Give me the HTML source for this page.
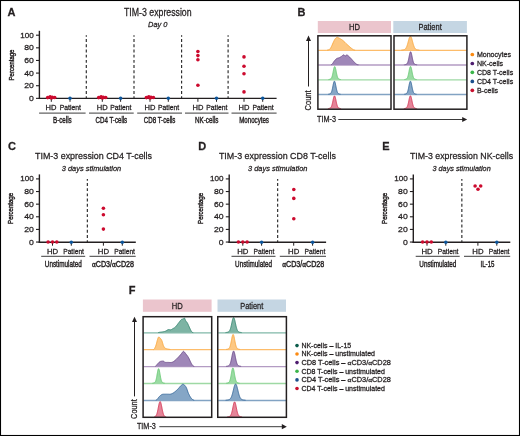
<!DOCTYPE html>
<html><head><meta charset="utf-8"><style>
html,body{margin:0;padding:0;background:#fff;}
svg{display:block;font-family:"Liberation Sans", sans-serif;will-change:transform;}
text{stroke:#231f20;stroke-width:0.26px;}
text.c{stroke-width:0.42px;}
</style></head><body>
<svg width="520" height="436" viewBox="0 0 520 436" fill="#231f20">
<rect x="0" y="0" width="520" height="436" fill="#fff"/>
<text x="7.60" y="15.90" font-size="11" font-weight="bold">A</text>
<text x="157.80" y="15.75" font-size="10.0" text-anchor="middle" textLength="67.60" lengthAdjust="spacingAndGlyphs">TIM-3 expression</text>
<text x="157.80" y="27.40" font-size="7.9" text-anchor="middle" font-style="italic" textLength="19.40" lengthAdjust="spacingAndGlyphs">Day 0</text>
<line x1="39.40" y1="30.80" x2="39.40" y2="99.05" stroke="#231f20" stroke-width="1.4"/>
<line x1="36.00" y1="35.20" x2="39.40" y2="35.20" stroke="#231f20" stroke-width="1.1"/>
<text x="33.80" y="37.70" font-size="8.0" text-anchor="end" textLength="13.50" lengthAdjust="spacingAndGlyphs">100</text>
<line x1="36.00" y1="47.83" x2="39.40" y2="47.83" stroke="#231f20" stroke-width="1.1"/>
<text x="33.80" y="50.33" font-size="8.0" text-anchor="end" textLength="9.60" lengthAdjust="spacingAndGlyphs">80</text>
<line x1="36.00" y1="60.46" x2="39.40" y2="60.46" stroke="#231f20" stroke-width="1.1"/>
<text x="33.80" y="62.96" font-size="8.0" text-anchor="end" textLength="9.60" lengthAdjust="spacingAndGlyphs">60</text>
<line x1="36.00" y1="73.09" x2="39.40" y2="73.09" stroke="#231f20" stroke-width="1.1"/>
<text x="33.80" y="75.59" font-size="8.0" text-anchor="end" textLength="9.60" lengthAdjust="spacingAndGlyphs">40</text>
<line x1="36.00" y1="85.72" x2="39.40" y2="85.72" stroke="#231f20" stroke-width="1.1"/>
<text x="33.80" y="88.22" font-size="8.0" text-anchor="end" textLength="9.60" lengthAdjust="spacingAndGlyphs">20</text>
<line x1="36.00" y1="98.35" x2="39.40" y2="98.35" stroke="#231f20" stroke-width="1.1"/>
<text x="33.80" y="100.85" font-size="8.0" text-anchor="end" textLength="4.80" lengthAdjust="spacingAndGlyphs">0</text>
<line x1="38.70" y1="98.35" x2="276.60" y2="98.35" stroke="#231f20" stroke-width="1.4"/>
<text x="12.20" y="65.00" font-size="7.0" class="c" text-anchor="middle" textLength="31.00" lengthAdjust="spacingAndGlyphs" transform="rotate(-90 12.20 65.00)" dy="2.3">Percentage</text>
<line x1="86.30" y1="35.30" x2="86.30" y2="98.00" stroke="#2a2a2a" stroke-width="1.15" stroke-dasharray="2.9 2.3" stroke-dashoffset="1.4"/>
<line x1="134.00" y1="35.30" x2="134.00" y2="98.00" stroke="#2a2a2a" stroke-width="1.15" stroke-dasharray="2.9 2.3" stroke-dashoffset="1.4"/>
<line x1="181.60" y1="35.30" x2="181.60" y2="98.00" stroke="#2a2a2a" stroke-width="1.15" stroke-dasharray="2.9 2.3" stroke-dashoffset="1.4"/>
<line x1="228.10" y1="35.30" x2="228.10" y2="98.00" stroke="#2a2a2a" stroke-width="1.15" stroke-dasharray="2.9 2.3" stroke-dashoffset="1.4"/>
<line x1="51.30" y1="98.30" x2="51.30" y2="101.80" stroke="#231f20" stroke-width="1.0"/>
<line x1="102.30" y1="98.30" x2="102.30" y2="101.80" stroke="#231f20" stroke-width="1.0"/>
<line x1="150.00" y1="98.30" x2="150.00" y2="101.80" stroke="#231f20" stroke-width="1.0"/>
<line x1="197.90" y1="98.30" x2="197.90" y2="101.80" stroke="#231f20" stroke-width="1.0"/>
<line x1="244.00" y1="98.30" x2="244.00" y2="101.80" stroke="#231f20" stroke-width="1.0"/>
<line x1="70.00" y1="98.30" x2="70.00" y2="101.80" stroke="#231f20" stroke-width="1.0"/>
<line x1="120.60" y1="98.30" x2="120.60" y2="101.80" stroke="#231f20" stroke-width="1.0"/>
<line x1="168.30" y1="98.30" x2="168.30" y2="101.80" stroke="#231f20" stroke-width="1.0"/>
<line x1="216.50" y1="98.30" x2="216.50" y2="101.80" stroke="#231f20" stroke-width="1.0"/>
<line x1="262.70" y1="98.30" x2="262.70" y2="101.80" stroke="#231f20" stroke-width="1.0"/>
<text x="50.90" y="109.70" font-size="6.8" text-anchor="middle" textLength="10.90" lengthAdjust="spacingAndGlyphs">HD</text>
<text x="70.30" y="109.70" font-size="6.8" text-anchor="middle" textLength="21.20" lengthAdjust="spacingAndGlyphs">Patient</text>
<line x1="39.10" y1="113.10" x2="85.60" y2="113.10" stroke="#636363" stroke-width="1.3"/>
<text x="62.35" y="122.50" font-size="8.9" class="c" text-anchor="middle" textLength="18.70" lengthAdjust="spacingAndGlyphs">B-cells</text>
<text x="102.30" y="109.70" font-size="6.8" text-anchor="middle" textLength="10.90" lengthAdjust="spacingAndGlyphs">HD</text>
<text x="120.90" y="109.70" font-size="6.8" text-anchor="middle" textLength="21.20" lengthAdjust="spacingAndGlyphs">Patient</text>
<line x1="89.00" y1="113.10" x2="133.70" y2="113.10" stroke="#636363" stroke-width="1.3"/>
<text x="111.35" y="122.50" font-size="8.9" class="c" text-anchor="middle" textLength="31.70" lengthAdjust="spacingAndGlyphs">CD4 T-cells</text>
<text x="150.00" y="109.70" font-size="6.8" text-anchor="middle" textLength="10.90" lengthAdjust="spacingAndGlyphs">HD</text>
<text x="168.60" y="109.70" font-size="6.8" text-anchor="middle" textLength="21.20" lengthAdjust="spacingAndGlyphs">Patient</text>
<line x1="137.20" y1="113.10" x2="182.00" y2="113.10" stroke="#636363" stroke-width="1.3"/>
<text x="159.60" y="122.50" font-size="8.9" class="c" text-anchor="middle" textLength="31.70" lengthAdjust="spacingAndGlyphs">CD8 T-cells</text>
<text x="197.90" y="109.70" font-size="6.8" text-anchor="middle" textLength="10.90" lengthAdjust="spacingAndGlyphs">HD</text>
<text x="216.80" y="109.70" font-size="6.8" text-anchor="middle" textLength="21.20" lengthAdjust="spacingAndGlyphs">Patient</text>
<line x1="185.00" y1="113.10" x2="228.50" y2="113.10" stroke="#636363" stroke-width="1.3"/>
<text x="206.75" y="122.50" font-size="8.9" class="c" text-anchor="middle" textLength="23.50" lengthAdjust="spacingAndGlyphs">NK-cells</text>
<text x="244.00" y="109.70" font-size="6.8" text-anchor="middle" textLength="10.90" lengthAdjust="spacingAndGlyphs">HD</text>
<text x="263.00" y="109.70" font-size="6.8" text-anchor="middle" textLength="21.20" lengthAdjust="spacingAndGlyphs">Patient</text>
<line x1="231.50" y1="113.10" x2="276.60" y2="113.10" stroke="#636363" stroke-width="1.3"/>
<text x="254.05" y="122.50" font-size="8.9" class="c" text-anchor="middle" textLength="29.80" lengthAdjust="spacingAndGlyphs">Monocytes</text>
<circle cx="47.70" cy="97.60" r="1.8" fill="#cc0a2e"/>
<circle cx="50.10" cy="96.70" r="1.8" fill="#cc0a2e"/>
<circle cx="52.30" cy="97.40" r="1.8" fill="#cc0a2e"/>
<circle cx="54.70" cy="97.50" r="1.8" fill="#cc0a2e"/>
<circle cx="51.30" cy="98.00" r="1.8" fill="#cc0a2e"/>
<circle cx="98.70" cy="97.60" r="1.8" fill="#cc0a2e"/>
<circle cx="101.10" cy="96.70" r="1.8" fill="#cc0a2e"/>
<circle cx="103.30" cy="97.40" r="1.8" fill="#cc0a2e"/>
<circle cx="105.70" cy="97.50" r="1.8" fill="#cc0a2e"/>
<circle cx="102.30" cy="98.00" r="1.8" fill="#cc0a2e"/>
<circle cx="146.40" cy="97.60" r="1.8" fill="#cc0a2e"/>
<circle cx="148.80" cy="96.70" r="1.8" fill="#cc0a2e"/>
<circle cx="151.00" cy="97.40" r="1.8" fill="#cc0a2e"/>
<circle cx="153.40" cy="97.50" r="1.8" fill="#cc0a2e"/>
<circle cx="150.00" cy="98.00" r="1.8" fill="#cc0a2e"/>
<circle cx="197.90" cy="51.50" r="1.8" fill="#cc0a2e"/>
<circle cx="197.90" cy="55.60" r="1.8" fill="#cc0a2e"/>
<circle cx="197.90" cy="59.80" r="1.8" fill="#cc0a2e"/>
<circle cx="197.90" cy="85.20" r="1.8" fill="#cc0a2e"/>
<circle cx="244.00" cy="56.90" r="1.8" fill="#cc0a2e"/>
<circle cx="244.00" cy="66.20" r="1.8" fill="#cc0a2e"/>
<circle cx="244.00" cy="73.80" r="1.8" fill="#cc0a2e"/>
<circle cx="244.00" cy="91.90" r="1.8" fill="#cc0a2e"/>
<circle cx="70.00" cy="98.30" r="1.75" fill="#0c559b"/>
<circle cx="120.60" cy="98.30" r="1.75" fill="#0c559b"/>
<circle cx="168.30" cy="98.30" r="1.75" fill="#0c559b"/>
<circle cx="216.50" cy="98.30" r="1.75" fill="#0c559b"/>
<circle cx="262.70" cy="98.30" r="1.75" fill="#0c559b"/>
<text x="8.00" y="149.80" font-size="11" font-weight="bold">C</text>
<text x="93.50" y="159.45" font-size="9.7" text-anchor="middle" textLength="117.00" lengthAdjust="spacingAndGlyphs">TIM-3 expression CD4 T-cells</text>
<text x="91.50" y="171.20" font-size="7.8" text-anchor="middle" font-style="italic" textLength="59.40" lengthAdjust="spacingAndGlyphs">3 days stimulation</text>
<line x1="39.40" y1="174.40" x2="39.40" y2="242.95" stroke="#231f20" stroke-width="1.4"/>
<line x1="36.00" y1="178.90" x2="39.40" y2="178.90" stroke="#231f20" stroke-width="1.1"/>
<text x="33.80" y="181.40" font-size="8.0" text-anchor="end" textLength="13.50" lengthAdjust="spacingAndGlyphs">100</text>
<line x1="36.00" y1="191.53" x2="39.40" y2="191.53" stroke="#231f20" stroke-width="1.1"/>
<text x="33.80" y="194.03" font-size="8.0" text-anchor="end" textLength="9.60" lengthAdjust="spacingAndGlyphs">80</text>
<line x1="36.00" y1="204.16" x2="39.40" y2="204.16" stroke="#231f20" stroke-width="1.1"/>
<text x="33.80" y="206.66" font-size="8.0" text-anchor="end" textLength="9.60" lengthAdjust="spacingAndGlyphs">60</text>
<line x1="36.00" y1="216.79" x2="39.40" y2="216.79" stroke="#231f20" stroke-width="1.1"/>
<text x="33.80" y="219.29" font-size="8.0" text-anchor="end" textLength="9.60" lengthAdjust="spacingAndGlyphs">40</text>
<line x1="36.00" y1="229.42" x2="39.40" y2="229.42" stroke="#231f20" stroke-width="1.1"/>
<text x="33.80" y="231.92" font-size="8.0" text-anchor="end" textLength="9.60" lengthAdjust="spacingAndGlyphs">20</text>
<line x1="36.00" y1="242.05" x2="39.40" y2="242.05" stroke="#231f20" stroke-width="1.1"/>
<text x="33.80" y="244.55" font-size="8.0" text-anchor="end" textLength="4.80" lengthAdjust="spacingAndGlyphs">0</text>
<line x1="38.70" y1="242.25" x2="135.80" y2="242.25" stroke="#231f20" stroke-width="1.4"/>
<text x="11.10" y="208.40" font-size="7.0" class="c" text-anchor="middle" textLength="31.00" lengthAdjust="spacingAndGlyphs" transform="rotate(-90 11.10 208.40)" dy="2.3">Percentage</text>
<line x1="87.35" y1="179.00" x2="87.35" y2="242.00" stroke="#2a2a2a" stroke-width="1.15" stroke-dasharray="2.9 2.3" stroke-dashoffset="1.2"/>
<line x1="52.50" y1="242.20" x2="52.50" y2="245.70" stroke="#231f20" stroke-width="1.0"/>
<line x1="103.40" y1="242.20" x2="103.40" y2="245.70" stroke="#231f20" stroke-width="1.0"/>
<line x1="71.30" y1="242.20" x2="71.30" y2="245.70" stroke="#231f20" stroke-width="1.0"/>
<line x1="122.30" y1="242.20" x2="122.30" y2="245.70" stroke="#231f20" stroke-width="1.0"/>
<text x="52.50" y="253.50" font-size="7.0" text-anchor="middle" textLength="11.20" lengthAdjust="spacingAndGlyphs">HD</text>
<text x="73.60" y="253.50" font-size="7.2" text-anchor="middle" textLength="20.80" lengthAdjust="spacingAndGlyphs">Patient</text>
<text x="103.40" y="253.50" font-size="7.0" text-anchor="middle" textLength="11.20" lengthAdjust="spacingAndGlyphs">HD</text>
<text x="124.60" y="253.50" font-size="7.2" text-anchor="middle" textLength="20.80" lengthAdjust="spacingAndGlyphs">Patient</text>
<line x1="41.20" y1="256.40" x2="85.20" y2="256.40" stroke="#636363" stroke-width="1.35"/>
<line x1="89.50" y1="256.40" x2="135.70" y2="256.40" stroke="#636363" stroke-width="1.35"/>
<text x="63.30" y="266.60" font-size="8.9" class="c" text-anchor="middle" textLength="37.00" lengthAdjust="spacingAndGlyphs">Unstimulated</text>
<text x="113.00" y="266.60" font-size="8.9" class="c" text-anchor="middle" textLength="42.00" lengthAdjust="spacingAndGlyphs"><tspan font-family="Liberation Serif">&#945;</tspan>CD3/<tspan font-family="Liberation Serif">&#945;</tspan>CD28</text>
<circle cx="48.10" cy="242.00" r="1.8" fill="#cc0a2e"/>
<circle cx="52.50" cy="242.00" r="1.8" fill="#cc0a2e"/>
<circle cx="56.80" cy="242.00" r="1.8" fill="#cc0a2e"/>
<circle cx="103.40" cy="208.20" r="1.8" fill="#cc0a2e"/>
<circle cx="103.40" cy="214.80" r="1.8" fill="#cc0a2e"/>
<circle cx="103.40" cy="229.10" r="1.8" fill="#cc0a2e"/>
<circle cx="71.30" cy="242.20" r="1.75" fill="#0c559b"/>
<circle cx="122.30" cy="242.20" r="1.75" fill="#0c559b"/>
<text x="198.20" y="149.80" font-size="11" font-weight="bold">D</text>
<text x="277.40" y="159.45" font-size="9.7" text-anchor="middle" textLength="117.00" lengthAdjust="spacingAndGlyphs">TIM-3 expression CD8 T-cells</text>
<text x="277.75" y="171.20" font-size="7.8" text-anchor="middle" font-style="italic" textLength="59.40" lengthAdjust="spacingAndGlyphs">3 days stimulation</text>
<line x1="229.20" y1="174.40" x2="229.20" y2="242.95" stroke="#231f20" stroke-width="1.4"/>
<line x1="225.80" y1="178.90" x2="229.20" y2="178.90" stroke="#231f20" stroke-width="1.1"/>
<text x="223.60" y="181.40" font-size="8.0" text-anchor="end" textLength="13.50" lengthAdjust="spacingAndGlyphs">100</text>
<line x1="225.80" y1="191.53" x2="229.20" y2="191.53" stroke="#231f20" stroke-width="1.1"/>
<text x="223.60" y="194.03" font-size="8.0" text-anchor="end" textLength="9.60" lengthAdjust="spacingAndGlyphs">80</text>
<line x1="225.80" y1="204.16" x2="229.20" y2="204.16" stroke="#231f20" stroke-width="1.1"/>
<text x="223.60" y="206.66" font-size="8.0" text-anchor="end" textLength="9.60" lengthAdjust="spacingAndGlyphs">60</text>
<line x1="225.80" y1="216.79" x2="229.20" y2="216.79" stroke="#231f20" stroke-width="1.1"/>
<text x="223.60" y="219.29" font-size="8.0" text-anchor="end" textLength="9.60" lengthAdjust="spacingAndGlyphs">40</text>
<line x1="225.80" y1="229.42" x2="229.20" y2="229.42" stroke="#231f20" stroke-width="1.1"/>
<text x="223.60" y="231.92" font-size="8.0" text-anchor="end" textLength="9.60" lengthAdjust="spacingAndGlyphs">20</text>
<line x1="225.80" y1="242.05" x2="229.20" y2="242.05" stroke="#231f20" stroke-width="1.1"/>
<text x="223.60" y="244.55" font-size="8.0" text-anchor="end" textLength="4.80" lengthAdjust="spacingAndGlyphs">0</text>
<line x1="228.50" y1="242.25" x2="326.10" y2="242.25" stroke="#231f20" stroke-width="1.4"/>
<text x="200.90" y="208.40" font-size="7.0" class="c" text-anchor="middle" textLength="31.00" lengthAdjust="spacingAndGlyphs" transform="rotate(-90 200.90 208.40)" dy="2.3">Percentage</text>
<line x1="277.65" y1="179.00" x2="277.65" y2="242.00" stroke="#2a2a2a" stroke-width="1.15" stroke-dasharray="2.9 2.3" stroke-dashoffset="1.2"/>
<line x1="242.80" y1="242.20" x2="242.80" y2="245.70" stroke="#231f20" stroke-width="1.0"/>
<line x1="293.70" y1="242.20" x2="293.70" y2="245.70" stroke="#231f20" stroke-width="1.0"/>
<line x1="261.60" y1="242.20" x2="261.60" y2="245.70" stroke="#231f20" stroke-width="1.0"/>
<line x1="312.60" y1="242.20" x2="312.60" y2="245.70" stroke="#231f20" stroke-width="1.0"/>
<text x="242.80" y="253.50" font-size="7.0" text-anchor="middle" textLength="11.20" lengthAdjust="spacingAndGlyphs">HD</text>
<text x="263.90" y="253.50" font-size="7.2" text-anchor="middle" textLength="20.80" lengthAdjust="spacingAndGlyphs">Patient</text>
<text x="293.70" y="253.50" font-size="7.0" text-anchor="middle" textLength="11.20" lengthAdjust="spacingAndGlyphs">HD</text>
<text x="314.90" y="253.50" font-size="7.2" text-anchor="middle" textLength="20.80" lengthAdjust="spacingAndGlyphs">Patient</text>
<line x1="231.50" y1="256.40" x2="275.50" y2="256.40" stroke="#636363" stroke-width="1.35"/>
<line x1="279.80" y1="256.40" x2="326.00" y2="256.40" stroke="#636363" stroke-width="1.35"/>
<text x="253.60" y="266.60" font-size="8.9" class="c" text-anchor="middle" textLength="37.00" lengthAdjust="spacingAndGlyphs">Unstimulated</text>
<text x="303.30" y="266.60" font-size="8.9" class="c" text-anchor="middle" textLength="42.00" lengthAdjust="spacingAndGlyphs"><tspan font-family="Liberation Serif">&#945;</tspan>CD3/<tspan font-family="Liberation Serif">&#945;</tspan>CD28</text>
<circle cx="238.40" cy="242.00" r="1.8" fill="#cc0a2e"/>
<circle cx="242.80" cy="242.00" r="1.8" fill="#cc0a2e"/>
<circle cx="247.10" cy="242.00" r="1.8" fill="#cc0a2e"/>
<circle cx="293.80" cy="189.50" r="1.8" fill="#cc0a2e"/>
<circle cx="293.80" cy="198.40" r="1.8" fill="#cc0a2e"/>
<circle cx="293.80" cy="218.80" r="1.8" fill="#cc0a2e"/>
<circle cx="261.60" cy="242.20" r="1.75" fill="#0c559b"/>
<circle cx="312.60" cy="242.20" r="1.75" fill="#0c559b"/>
<text x="382.20" y="149.80" font-size="11" font-weight="bold">E</text>
<text x="461.50" y="159.45" font-size="9.7" text-anchor="middle" textLength="103.20" lengthAdjust="spacingAndGlyphs">TIM-3 expression NK-cells</text>
<text x="461.60" y="171.20" font-size="7.8" text-anchor="middle" font-style="italic" textLength="58.20" lengthAdjust="spacingAndGlyphs">3 days stimulation</text>
<line x1="413.30" y1="174.40" x2="413.30" y2="242.95" stroke="#231f20" stroke-width="1.4"/>
<line x1="409.90" y1="178.90" x2="413.30" y2="178.90" stroke="#231f20" stroke-width="1.1"/>
<text x="407.70" y="181.40" font-size="8.0" text-anchor="end" textLength="13.50" lengthAdjust="spacingAndGlyphs">100</text>
<line x1="409.90" y1="191.53" x2="413.30" y2="191.53" stroke="#231f20" stroke-width="1.1"/>
<text x="407.70" y="194.03" font-size="8.0" text-anchor="end" textLength="9.60" lengthAdjust="spacingAndGlyphs">80</text>
<line x1="409.90" y1="204.16" x2="413.30" y2="204.16" stroke="#231f20" stroke-width="1.1"/>
<text x="407.70" y="206.66" font-size="8.0" text-anchor="end" textLength="9.60" lengthAdjust="spacingAndGlyphs">60</text>
<line x1="409.90" y1="216.79" x2="413.30" y2="216.79" stroke="#231f20" stroke-width="1.1"/>
<text x="407.70" y="219.29" font-size="8.0" text-anchor="end" textLength="9.60" lengthAdjust="spacingAndGlyphs">40</text>
<line x1="409.90" y1="229.42" x2="413.30" y2="229.42" stroke="#231f20" stroke-width="1.1"/>
<text x="407.70" y="231.92" font-size="8.0" text-anchor="end" textLength="9.60" lengthAdjust="spacingAndGlyphs">20</text>
<line x1="409.90" y1="242.05" x2="413.30" y2="242.05" stroke="#231f20" stroke-width="1.1"/>
<text x="407.70" y="244.55" font-size="8.0" text-anchor="end" textLength="4.80" lengthAdjust="spacingAndGlyphs">0</text>
<line x1="412.60" y1="242.25" x2="510.30" y2="242.25" stroke="#231f20" stroke-width="1.4"/>
<text x="385.00" y="208.40" font-size="7.0" class="c" text-anchor="middle" textLength="31.00" lengthAdjust="spacingAndGlyphs" transform="rotate(-90 385.00 208.40)" dy="2.3">Percentage</text>
<line x1="461.85" y1="179.00" x2="461.85" y2="242.00" stroke="#2a2a2a" stroke-width="1.15" stroke-dasharray="2.9 2.3" stroke-dashoffset="1.2"/>
<line x1="427.00" y1="242.20" x2="427.00" y2="245.70" stroke="#231f20" stroke-width="1.0"/>
<line x1="477.90" y1="242.20" x2="477.90" y2="245.70" stroke="#231f20" stroke-width="1.0"/>
<line x1="445.80" y1="242.20" x2="445.80" y2="245.70" stroke="#231f20" stroke-width="1.0"/>
<line x1="496.80" y1="242.20" x2="496.80" y2="245.70" stroke="#231f20" stroke-width="1.0"/>
<text x="427.00" y="253.50" font-size="7.0" text-anchor="middle" textLength="11.20" lengthAdjust="spacingAndGlyphs">HD</text>
<text x="448.10" y="253.50" font-size="7.2" text-anchor="middle" textLength="20.80" lengthAdjust="spacingAndGlyphs">Patient</text>
<text x="477.90" y="253.50" font-size="7.0" text-anchor="middle" textLength="11.20" lengthAdjust="spacingAndGlyphs">HD</text>
<text x="499.10" y="253.50" font-size="7.2" text-anchor="middle" textLength="20.80" lengthAdjust="spacingAndGlyphs">Patient</text>
<line x1="415.70" y1="256.40" x2="459.70" y2="256.40" stroke="#636363" stroke-width="1.35"/>
<line x1="464.00" y1="256.40" x2="510.20" y2="256.40" stroke="#636363" stroke-width="1.35"/>
<text x="437.80" y="266.60" font-size="8.9" class="c" text-anchor="middle" textLength="37.00" lengthAdjust="spacingAndGlyphs">Unstimulated</text>
<text x="487.50" y="266.60" font-size="8.9" class="c" text-anchor="middle" textLength="14.00" lengthAdjust="spacingAndGlyphs">IL-15</text>
<circle cx="422.60" cy="242.00" r="1.8" fill="#cc0a2e"/>
<circle cx="427.00" cy="242.00" r="1.8" fill="#cc0a2e"/>
<circle cx="431.30" cy="242.00" r="1.8" fill="#cc0a2e"/>
<circle cx="475.10" cy="186.00" r="1.8" fill="#cc0a2e"/>
<circle cx="478.00" cy="189.20" r="1.8" fill="#cc0a2e"/>
<circle cx="480.70" cy="186.00" r="1.8" fill="#cc0a2e"/>
<circle cx="445.80" cy="242.20" r="1.75" fill="#0c559b"/>
<circle cx="496.80" cy="242.20" r="1.75" fill="#0c559b"/>
<text x="297.40" y="15.80" font-size="11" font-weight="bold">B</text>
<rect x="317.80" y="21.00" width="73.20" height="12.00" fill="#ebc5cd"/>
<text x="354.40" y="29.80" font-size="8.5" text-anchor="middle" textLength="11.00" lengthAdjust="spacingAndGlyphs">HD</text>
<rect x="393.30" y="21.00" width="73.60" height="12.00" fill="#c5d6e3"/>
<text x="430.10" y="29.80" font-size="8.5" text-anchor="middle" textLength="23.30" lengthAdjust="spacingAndGlyphs">Patient</text>
<line x1="318.20" y1="50.40" x2="390.50" y2="50.40" stroke="#fdbc6a" stroke-width="1.3"/>
<line x1="394.30" y1="50.40" x2="466.80" y2="50.40" stroke="#fdbc6a" stroke-width="1.3"/>
<path d="M326.00,50.40 L326.28,50.34 L326.66,50.27 L327.12,50.19 L327.62,50.09 L328.14,49.97 L328.65,49.81 L329.11,49.63 L329.50,49.40 L329.81,49.14 L330.08,48.87 L330.32,48.58 L330.53,48.24 L330.74,47.87 L330.96,47.44 L331.21,46.96 L331.50,46.40 L331.83,45.73 L332.20,44.93 L332.58,44.04 L332.98,43.12 L333.38,42.20 L333.78,41.33 L334.15,40.55 L334.50,39.90 L334.82,39.37 L335.13,38.92 L335.42,38.53 L335.70,38.20 L335.98,37.93 L336.25,37.71 L336.52,37.53 L336.80,37.40 L337.07,37.32 L337.33,37.32 L337.58,37.37 L337.83,37.46 L338.08,37.59 L338.36,37.75 L338.66,37.92 L339.00,38.10 L339.37,38.28 L339.76,38.48 L340.18,38.70 L340.62,38.94 L341.07,39.21 L341.54,39.51 L342.02,39.84 L342.50,40.20 L343.00,40.61 L343.50,41.06 L344.03,41.55 L344.56,42.06 L345.11,42.59 L345.66,43.13 L346.23,43.67 L346.80,44.20 L347.40,44.74 L348.03,45.32 L348.69,45.91 L349.34,46.50 L349.99,47.07 L350.61,47.61 L351.18,48.09 L351.70,48.50 L352.13,48.84 L352.48,49.12 L352.79,49.35 L353.06,49.55 L353.34,49.71 L353.66,49.85 L354.04,49.98 L354.50,50.10 L355.10,50.20 L355.81,50.27 L356.61,50.32 L357.43,50.35 L358.22,50.37 L358.95,50.38 L359.56,50.39 L360.00,50.40 Z" fill="#fdc883" stroke="none"/>
<path d="M327.12,50.19 L327.62,50.09 L328.14,49.97 L328.65,49.81 L329.11,49.63 L329.50,49.40 L329.81,49.14 L330.08,48.87 L330.32,48.58 L330.53,48.24 L330.74,47.87 L330.96,47.44 L331.21,46.96 L331.50,46.40 L331.83,45.73 L332.20,44.93 L332.58,44.04 L332.98,43.12 L333.38,42.20 L333.78,41.33 L334.15,40.55 L334.50,39.90 L334.82,39.37 L335.13,38.92 L335.42,38.53 L335.70,38.20 L335.98,37.93 L336.25,37.71 L336.52,37.53 L336.80,37.40 L337.07,37.32 L337.33,37.32 L337.58,37.37 L337.83,37.46 L338.08,37.59 L338.36,37.75 L338.66,37.92 L339.00,38.10 L339.37,38.28 L339.76,38.48 L340.18,38.70 L340.62,38.94 L341.07,39.21 L341.54,39.51 L342.02,39.84 L342.50,40.20 L343.00,40.61 L343.50,41.06 L344.03,41.55 L344.56,42.06 L345.11,42.59 L345.66,43.13 L346.23,43.67 L346.80,44.20 L347.40,44.74 L348.03,45.32 L348.69,45.91 L349.34,46.50 L349.99,47.07 L350.61,47.61 L351.18,48.09 L351.70,48.50 L352.13,48.84 L352.48,49.12 L352.79,49.35 L353.06,49.55 L353.34,49.71 L353.66,49.85 L354.04,49.98 L354.50,50.10 L355.10,50.20" fill="none" stroke="#fbab45" stroke-width="1.0" stroke-linejoin="round"/>
<line x1="318.20" y1="65.00" x2="390.50" y2="65.00" stroke="#b39bc3" stroke-width="1.3"/>
<line x1="394.30" y1="65.00" x2="466.80" y2="65.00" stroke="#b39bc3" stroke-width="1.3"/>
<path d="M330.00,65.00 L330.15,64.96 L330.34,64.93 L330.57,64.89 L330.82,64.84 L331.10,64.75 L331.40,64.63 L331.70,64.45 L332.00,64.20 L332.32,63.85 L332.66,63.41 L333.03,62.91 L333.41,62.36 L333.78,61.81 L334.14,61.28 L334.49,60.80 L334.80,60.40 L335.08,60.07 L335.32,59.79 L335.55,59.54 L335.77,59.32 L335.98,59.12 L336.20,58.94 L336.44,58.77 L336.70,58.60 L336.99,58.45 L337.29,58.32 L337.60,58.21 L337.92,58.12 L338.25,58.03 L338.57,57.93 L338.89,57.83 L339.20,57.70 L339.50,57.56 L339.80,57.41 L340.09,57.25 L340.38,57.09 L340.67,56.92 L340.95,56.75 L341.23,56.57 L341.50,56.40 L341.77,56.20 L342.02,55.98 L342.28,55.74 L342.52,55.50 L342.77,55.28 L343.01,55.10 L343.26,54.96 L343.50,54.90 L343.75,54.93 L343.99,55.04 L344.24,55.22 L344.49,55.42 L344.73,55.63 L344.96,55.82 L345.19,55.95 L345.40,56.00 L345.59,55.94 L345.75,55.80 L345.90,55.60 L346.04,55.38 L346.19,55.16 L346.36,54.99 L346.56,54.89 L346.80,54.90 L347.09,55.02 L347.41,55.20 L347.76,55.45 L348.12,55.75 L348.51,56.09 L348.90,56.45 L349.30,56.82 L349.70,57.20 L350.10,57.60 L350.53,58.05 L350.96,58.52 L351.40,59.01 L351.84,59.51 L352.27,60.00 L352.70,60.47 L353.10,60.90 L353.49,61.31 L353.87,61.73 L354.25,62.13 L354.61,62.52 L354.97,62.89 L355.32,63.23 L355.66,63.53 L356.00,63.80 L356.29,64.02 L356.51,64.20 L356.71,64.35 L356.91,64.47 L357.14,64.57 L357.45,64.65 L357.85,64.73 L358.40,64.80 L359.15,64.86 L360.11,64.91 L361.20,64.94 L362.35,64.96 L363.48,64.97 L364.51,64.98 L365.38,64.99 L366.00,65.00 Z" fill="#9f87b8" stroke="none"/>
<path d="M331.10,64.75 L331.40,64.63 L331.70,64.45 L332.00,64.20 L332.32,63.85 L332.66,63.41 L333.03,62.91 L333.41,62.36 L333.78,61.81 L334.14,61.28 L334.49,60.80 L334.80,60.40 L335.08,60.07 L335.32,59.79 L335.55,59.54 L335.77,59.32 L335.98,59.12 L336.20,58.94 L336.44,58.77 L336.70,58.60 L336.99,58.45 L337.29,58.32 L337.60,58.21 L337.92,58.12 L338.25,58.03 L338.57,57.93 L338.89,57.83 L339.20,57.70 L339.50,57.56 L339.80,57.41 L340.09,57.25 L340.38,57.09 L340.67,56.92 L340.95,56.75 L341.23,56.57 L341.50,56.40 L341.77,56.20 L342.02,55.98 L342.28,55.74 L342.52,55.50 L342.77,55.28 L343.01,55.10 L343.26,54.96 L343.50,54.90 L343.75,54.93 L343.99,55.04 L344.24,55.22 L344.49,55.42 L344.73,55.63 L344.96,55.82 L345.19,55.95 L345.40,56.00 L345.59,55.94 L345.75,55.80 L345.90,55.60 L346.04,55.38 L346.19,55.16 L346.36,54.99 L346.56,54.89 L346.80,54.90 L347.09,55.02 L347.41,55.20 L347.76,55.45 L348.12,55.75 L348.51,56.09 L348.90,56.45 L349.30,56.82 L349.70,57.20 L350.10,57.60 L350.53,58.05 L350.96,58.52 L351.40,59.01 L351.84,59.51 L352.27,60.00 L352.70,60.47 L353.10,60.90 L353.49,61.31 L353.87,61.73 L354.25,62.13 L354.61,62.52 L354.97,62.89 L355.32,63.23 L355.66,63.53 L356.00,63.80 L356.29,64.02 L356.51,64.20 L356.71,64.35 L356.91,64.47 L357.14,64.57 L357.45,64.65 L357.85,64.73 L358.40,64.80" fill="none" stroke="#74528f" stroke-width="1.0" stroke-linejoin="round"/>
<line x1="318.20" y1="79.80" x2="390.50" y2="79.80" stroke="#9ed9a4" stroke-width="1.3"/>
<line x1="394.30" y1="79.80" x2="466.80" y2="79.80" stroke="#9ed9a4" stroke-width="1.3"/>
<path d="M326.00,79.76 L326.15,79.75 L326.30,79.74 L326.45,79.74 L326.60,79.73 L326.75,79.72 L326.90,79.71 L327.05,79.70 L327.20,79.69 L327.35,79.68 L327.50,79.67 L327.65,79.66 L327.80,79.64 L327.95,79.63 L328.10,79.61 L328.25,79.60 L328.40,79.58 L328.55,79.56 L328.70,79.54 L328.85,79.51 L329.00,79.49 L329.15,79.46 L329.30,79.43 L329.45,79.40 L329.60,79.37 L329.75,79.33 L329.90,79.28 L330.05,79.23 L330.20,79.17 L330.35,79.10 L330.50,79.02 L330.65,78.93 L330.80,78.81 L330.95,78.68 L331.10,78.52 L331.25,78.33 L331.40,78.10 L331.55,77.83 L331.70,77.52 L331.85,77.16 L332.00,76.75 L332.15,76.28 L332.30,75.76 L332.45,75.18 L332.60,74.55 L332.75,73.88 L332.90,73.16 L333.05,72.41 L333.20,71.65 L333.35,70.88 L333.50,70.13 L333.65,69.40 L333.80,68.73 L333.95,68.12 L334.10,67.60 L334.25,67.17 L334.40,66.86 L334.55,66.66 L334.70,66.60 L334.85,66.66 L335.00,66.86 L335.15,67.17 L335.30,67.60 L335.45,68.12 L335.60,68.73 L335.75,69.40 L335.90,70.13 L336.05,70.88 L336.20,71.65 L336.35,72.41 L336.50,73.16 L336.65,73.88 L336.80,74.55 L336.95,75.18 L337.10,75.76 L337.25,76.28 L337.40,76.75 L337.55,77.16 L337.70,77.52 L337.85,77.83 L338.00,78.10 L338.15,78.33 L338.30,78.52 L338.45,78.68 L338.60,78.81 L338.75,78.93 L338.90,79.02 L339.05,79.10 L339.20,79.17 L339.35,79.23 L339.50,79.28 L339.65,79.33 L339.80,79.37 L339.95,79.40 L340.10,79.43 L340.25,79.46 L340.40,79.49 L340.55,79.51 L340.70,79.54 L340.85,79.56 L341.00,79.58 L341.15,79.60 L341.30,79.61 L341.45,79.63 L341.60,79.64 L341.75,79.66 L341.90,79.67 L342.05,79.68 L342.20,79.69 L342.35,79.70 L342.50,79.71 L342.65,79.72 L342.80,79.73 L342.95,79.74 L343.10,79.74 L343.25,79.75 L343.40,79.76 L343.55,79.76 L343.70,79.77 L343.85,79.77 L344.00,79.77 Z" fill="#9adba3" stroke="none"/>
<path d="M328.55,79.56 L328.70,79.54 L328.85,79.51 L329.00,79.49 L329.15,79.46 L329.30,79.43 L329.45,79.40 L329.60,79.37 L329.75,79.33 L329.90,79.28 L330.05,79.23 L330.20,79.17 L330.35,79.10 L330.50,79.02 L330.65,78.93 L330.80,78.81 L330.95,78.68 L331.10,78.52 L331.25,78.33 L331.40,78.10 L331.55,77.83 L331.70,77.52 L331.85,77.16 L332.00,76.75 L332.15,76.28 L332.30,75.76 L332.45,75.18 L332.60,74.55 L332.75,73.88 L332.90,73.16 L333.05,72.41 L333.20,71.65 L333.35,70.88 L333.50,70.13 L333.65,69.40 L333.80,68.73 L333.95,68.12 L334.10,67.60 L334.25,67.17 L334.40,66.86 L334.55,66.66 L334.70,66.60 L334.85,66.66 L335.00,66.86 L335.15,67.17 L335.30,67.60 L335.45,68.12 L335.60,68.73 L335.75,69.40 L335.90,70.13 L336.05,70.88 L336.20,71.65 L336.35,72.41 L336.50,73.16 L336.65,73.88 L336.80,74.55 L336.95,75.18 L337.10,75.76 L337.25,76.28 L337.40,76.75 L337.55,77.16 L337.70,77.52 L337.85,77.83 L338.00,78.10 L338.15,78.33 L338.30,78.52 L338.45,78.68 L338.60,78.81 L338.75,78.93 L338.90,79.02 L339.05,79.10 L339.20,79.17 L339.35,79.23 L339.50,79.28 L339.65,79.33 L339.80,79.37 L339.95,79.40 L340.10,79.43 L340.25,79.46 L340.40,79.49 L340.55,79.51 L340.70,79.54 L340.85,79.56" fill="none" stroke="#6fcd7b" stroke-width="1.0" stroke-linejoin="round"/>
<line x1="318.20" y1="94.50" x2="390.50" y2="94.50" stroke="#82a3c3" stroke-width="1.3"/>
<line x1="394.30" y1="94.50" x2="466.80" y2="94.50" stroke="#82a3c3" stroke-width="1.3"/>
<path d="M326.00,94.44 L326.15,94.44 L326.30,94.43 L326.45,94.42 L326.60,94.41 L326.75,94.40 L326.90,94.39 L327.05,94.38 L327.20,94.37 L327.35,94.36 L327.50,94.34 L327.65,94.33 L327.80,94.31 L327.95,94.29 L328.10,94.28 L328.25,94.26 L328.40,94.23 L328.55,94.21 L328.70,94.19 L328.85,94.16 L329.00,94.13 L329.15,94.10 L329.30,94.06 L329.45,94.02 L329.60,93.98 L329.75,93.93 L329.90,93.87 L330.05,93.80 L330.20,93.72 L330.35,93.62 L330.50,93.51 L330.65,93.37 L330.80,93.21 L330.95,93.02 L331.10,92.79 L331.25,92.52 L331.40,92.20 L331.55,91.84 L331.70,91.43 L331.85,90.96 L332.00,90.43 L332.15,89.85 L332.30,89.22 L332.45,88.53 L332.60,87.81 L332.75,87.06 L332.90,86.29 L333.05,85.51 L333.20,84.75 L333.35,84.02 L333.50,83.34 L333.65,82.73 L333.80,82.20 L333.95,81.77 L334.10,81.46 L334.25,81.27 L334.40,81.20 L334.55,81.27 L334.70,81.46 L334.85,81.77 L335.00,82.20 L335.15,82.73 L335.30,83.34 L335.45,84.02 L335.60,84.75 L335.75,85.51 L335.90,86.29 L336.05,87.06 L336.20,87.81 L336.35,88.53 L336.50,89.22 L336.65,89.85 L336.80,90.43 L336.95,90.96 L337.10,91.43 L337.25,91.84 L337.40,92.20 L337.55,92.52 L337.70,92.79 L337.85,93.02 L338.00,93.21 L338.15,93.37 L338.30,93.51 L338.45,93.62 L338.60,93.72 L338.75,93.80 L338.90,93.87 L339.05,93.93 L339.20,93.98 L339.35,94.02 L339.50,94.06 L339.65,94.10 L339.80,94.13 L339.95,94.16 L340.10,94.19 L340.25,94.21 L340.40,94.23 L340.55,94.26 L340.70,94.28 L340.85,94.29 L341.00,94.31 L341.15,94.33 L341.30,94.34 L341.45,94.36 L341.60,94.37 L341.75,94.38 L341.90,94.39 L342.05,94.40 L342.20,94.41 L342.35,94.42 L342.50,94.43 L342.65,94.44 L342.80,94.44 L342.95,94.45 L343.10,94.46 L343.25,94.46 L343.40,94.47 L343.55,94.47 L343.70,94.47 L343.85,94.48 L344.00,94.48 Z" fill="#85a6c6" stroke="none"/>
<path d="M328.25,94.26 L328.40,94.23 L328.55,94.21 L328.70,94.19 L328.85,94.16 L329.00,94.13 L329.15,94.10 L329.30,94.06 L329.45,94.02 L329.60,93.98 L329.75,93.93 L329.90,93.87 L330.05,93.80 L330.20,93.72 L330.35,93.62 L330.50,93.51 L330.65,93.37 L330.80,93.21 L330.95,93.02 L331.10,92.79 L331.25,92.52 L331.40,92.20 L331.55,91.84 L331.70,91.43 L331.85,90.96 L332.00,90.43 L332.15,89.85 L332.30,89.22 L332.45,88.53 L332.60,87.81 L332.75,87.06 L332.90,86.29 L333.05,85.51 L333.20,84.75 L333.35,84.02 L333.50,83.34 L333.65,82.73 L333.80,82.20 L333.95,81.77 L334.10,81.46 L334.25,81.27 L334.40,81.20 L334.55,81.27 L334.70,81.46 L334.85,81.77 L335.00,82.20 L335.15,82.73 L335.30,83.34 L335.45,84.02 L335.60,84.75 L335.75,85.51 L335.90,86.29 L336.05,87.06 L336.20,87.81 L336.35,88.53 L336.50,89.22 L336.65,89.85 L336.80,90.43 L336.95,90.96 L337.10,91.43 L337.25,91.84 L337.40,92.20 L337.55,92.52 L337.70,92.79 L337.85,93.02 L338.00,93.21 L338.15,93.37 L338.30,93.51 L338.45,93.62 L338.60,93.72 L338.75,93.80 L338.90,93.87 L339.05,93.93 L339.20,93.98 L339.35,94.02 L339.50,94.06 L339.65,94.10 L339.80,94.13 L339.95,94.16 L340.10,94.19 L340.25,94.21 L340.40,94.23 L340.55,94.26" fill="none" stroke="#3f6f9f" stroke-width="1.0" stroke-linejoin="round"/>
<path d="M326.00,108.74 L326.15,108.73 L326.30,108.72 L326.45,108.72 L326.60,108.71 L326.75,108.70 L326.90,108.69 L327.05,108.67 L327.20,108.66 L327.35,108.65 L327.50,108.64 L327.65,108.62 L327.80,108.60 L327.95,108.59 L328.10,108.57 L328.25,108.55 L328.40,108.53 L328.55,108.50 L328.70,108.48 L328.85,108.45 L329.00,108.42 L329.15,108.39 L329.30,108.36 L329.45,108.32 L329.60,108.27 L329.75,108.22 L329.90,108.16 L330.05,108.10 L330.20,108.02 L330.35,107.92 L330.50,107.81 L330.65,107.68 L330.80,107.52 L330.95,107.33 L331.10,107.12 L331.25,106.86 L331.40,106.57 L331.55,106.23 L331.70,105.84 L331.85,105.40 L332.00,104.91 L332.15,104.37 L332.30,103.79 L332.45,103.16 L332.60,102.49 L332.75,101.79 L332.90,101.07 L333.05,100.34 L333.20,99.62 L333.35,98.93 L333.50,98.27 L333.65,97.66 L333.80,97.12 L333.95,96.67 L334.10,96.31 L334.25,96.06 L334.40,95.93 L334.55,95.91 L334.70,96.00 L334.85,96.22 L335.00,96.54 L335.15,96.96 L335.30,97.47 L335.45,98.06 L335.60,98.70 L335.75,99.39 L335.90,100.10 L336.05,100.83 L336.20,101.55 L336.35,102.26 L336.50,102.94 L336.65,103.58 L336.80,104.18 L336.95,104.74 L337.10,105.24 L337.25,105.70 L337.40,106.10 L337.55,106.46 L337.70,106.77 L337.85,107.04 L338.00,107.27 L338.15,107.46 L338.30,107.63 L338.45,107.77 L338.60,107.89 L338.75,107.99 L338.90,108.07 L339.05,108.14 L339.20,108.20 L339.35,108.26 L339.50,108.30 L339.65,108.34 L339.80,108.38 L339.95,108.41 L340.10,108.44 L340.25,108.47 L340.40,108.50 L340.55,108.52 L340.70,108.54 L340.85,108.56 L341.00,108.58 L341.15,108.60 L341.30,108.61 L341.45,108.63 L341.60,108.64 L341.75,108.66 L341.90,108.67 L342.05,108.68 L342.20,108.69 L342.35,108.70 L342.50,108.71 L342.65,108.72 L342.80,108.73 L342.95,108.74 L343.10,108.74 L343.25,108.75 L343.40,108.75 L343.55,108.76 L343.70,108.76 L343.85,108.77 L344.00,108.77 Z" fill="#e58498" stroke="none"/>
<path d="M328.10,108.57 L328.25,108.55 L328.40,108.53 L328.55,108.50 L328.70,108.48 L328.85,108.45 L329.00,108.42 L329.15,108.39 L329.30,108.36 L329.45,108.32 L329.60,108.27 L329.75,108.22 L329.90,108.16 L330.05,108.10 L330.20,108.02 L330.35,107.92 L330.50,107.81 L330.65,107.68 L330.80,107.52 L330.95,107.33 L331.10,107.12 L331.25,106.86 L331.40,106.57 L331.55,106.23 L331.70,105.84 L331.85,105.40 L332.00,104.91 L332.15,104.37 L332.30,103.79 L332.45,103.16 L332.60,102.49 L332.75,101.79 L332.90,101.07 L333.05,100.34 L333.20,99.62 L333.35,98.93 L333.50,98.27 L333.65,97.66 L333.80,97.12 L333.95,96.67 L334.10,96.31 L334.25,96.06 L334.40,95.93 L334.55,95.91 L334.70,96.00 L334.85,96.22 L335.00,96.54 L335.15,96.96 L335.30,97.47 L335.45,98.06 L335.60,98.70 L335.75,99.39 L335.90,100.10 L336.05,100.83 L336.20,101.55 L336.35,102.26 L336.50,102.94 L336.65,103.58 L336.80,104.18 L336.95,104.74 L337.10,105.24 L337.25,105.70 L337.40,106.10 L337.55,106.46 L337.70,106.77 L337.85,107.04 L338.00,107.27 L338.15,107.46 L338.30,107.63 L338.45,107.77 L338.60,107.89 L338.75,107.99 L338.90,108.07 L339.05,108.14 L339.20,108.20 L339.35,108.26 L339.50,108.30 L339.65,108.34 L339.80,108.38 L339.95,108.41 L340.10,108.44 L340.25,108.47 L340.40,108.50 L340.55,108.52 L340.70,108.54 L340.85,108.56" fill="none" stroke="#d8405e" stroke-width="1.0" stroke-linejoin="round"/>
<path d="M401.40,50.15 L401.55,50.14 L401.70,50.12 L401.85,50.10 L402.00,50.08 L402.15,50.07 L402.30,50.05 L402.45,50.03 L402.60,50.00 L402.75,49.98 L402.90,49.96 L403.05,49.93 L403.20,49.90 L403.35,49.87 L403.50,49.83 L403.65,49.80 L403.80,49.75 L403.95,49.71 L404.10,49.66 L404.25,49.60 L404.40,49.53 L404.55,49.46 L404.70,49.38 L404.85,49.29 L405.00,49.18 L405.15,49.06 L405.30,48.93 L405.45,48.78 L405.60,48.61 L405.75,48.42 L405.90,48.21 L406.05,47.98 L406.20,47.72 L406.35,47.43 L406.50,47.12 L406.65,46.78 L406.80,46.41 L406.95,46.02 L407.10,45.59 L407.25,45.14 L407.40,44.66 L407.55,44.16 L407.70,43.64 L407.85,43.10 L408.00,42.55 L408.15,41.99 L408.30,41.42 L408.45,40.85 L408.60,40.30 L408.75,39.75 L408.90,39.22 L409.05,38.72 L409.20,38.25 L409.35,37.82 L409.50,37.44 L409.65,37.10 L409.80,36.82 L409.95,36.59 L410.10,36.43 L410.25,36.33 L410.40,36.30 L410.55,36.33 L410.70,36.43 L410.85,36.59 L411.00,36.82 L411.15,37.10 L411.30,37.44 L411.45,37.82 L411.60,38.25 L411.75,38.72 L411.90,39.22 L412.05,39.75 L412.20,40.30 L412.35,40.85 L412.50,41.42 L412.65,41.99 L412.80,42.55 L412.95,43.10 L413.10,43.64 L413.25,44.16 L413.40,44.66 L413.55,45.14 L413.70,45.59 L413.85,46.02 L414.00,46.41 L414.15,46.78 L414.30,47.12 L414.45,47.43 L414.60,47.72 L414.75,47.98 L414.90,48.21 L415.05,48.42 L415.20,48.61 L415.35,48.78 L415.50,48.93 L415.65,49.06 L415.80,49.18 L415.95,49.29 L416.10,49.38 L416.25,49.46 L416.40,49.53 L416.55,49.60 L416.70,49.66 L416.85,49.71 L417.00,49.75 L417.15,49.80 L417.30,49.83 L417.45,49.87 L417.60,49.90 L417.75,49.93 L417.90,49.96 L418.05,49.98 L418.20,50.00 L418.35,50.03 L418.50,50.05 L418.65,50.07 L418.80,50.08 L418.95,50.10 L419.10,50.12 L419.25,50.14 L419.40,50.15 Z" fill="#fdc883" stroke="none"/>
<path d="M401.40,50.15 L401.55,50.14 L401.70,50.12 L401.85,50.10 L402.00,50.08 L402.15,50.07 L402.30,50.05 L402.45,50.03 L402.60,50.00 L402.75,49.98 L402.90,49.96 L403.05,49.93 L403.20,49.90 L403.35,49.87 L403.50,49.83 L403.65,49.80 L403.80,49.75 L403.95,49.71 L404.10,49.66 L404.25,49.60 L404.40,49.53 L404.55,49.46 L404.70,49.38 L404.85,49.29 L405.00,49.18 L405.15,49.06 L405.30,48.93 L405.45,48.78 L405.60,48.61 L405.75,48.42 L405.90,48.21 L406.05,47.98 L406.20,47.72 L406.35,47.43 L406.50,47.12 L406.65,46.78 L406.80,46.41 L406.95,46.02 L407.10,45.59 L407.25,45.14 L407.40,44.66 L407.55,44.16 L407.70,43.64 L407.85,43.10 L408.00,42.55 L408.15,41.99 L408.30,41.42 L408.45,40.85 L408.60,40.30 L408.75,39.75 L408.90,39.22 L409.05,38.72 L409.20,38.25 L409.35,37.82 L409.50,37.44 L409.65,37.10 L409.80,36.82 L409.95,36.59 L410.10,36.43 L410.25,36.33 L410.40,36.30 L410.55,36.33 L410.70,36.43 L410.85,36.59 L411.00,36.82 L411.15,37.10 L411.30,37.44 L411.45,37.82 L411.60,38.25 L411.75,38.72 L411.90,39.22 L412.05,39.75 L412.20,40.30 L412.35,40.85 L412.50,41.42 L412.65,41.99 L412.80,42.55 L412.95,43.10 L413.10,43.64 L413.25,44.16 L413.40,44.66 L413.55,45.14 L413.70,45.59 L413.85,46.02 L414.00,46.41 L414.15,46.78 L414.30,47.12 L414.45,47.43 L414.60,47.72 L414.75,47.98 L414.90,48.21 L415.05,48.42 L415.20,48.61 L415.35,48.78 L415.50,48.93 L415.65,49.06 L415.80,49.18 L415.95,49.29 L416.10,49.38 L416.25,49.46 L416.40,49.53 L416.55,49.60 L416.70,49.66 L416.85,49.71 L417.00,49.75 L417.15,49.80 L417.30,49.83 L417.45,49.87 L417.60,49.90 L417.75,49.93 L417.90,49.96 L418.05,49.98 L418.20,50.00 L418.35,50.03 L418.50,50.05 L418.65,50.07 L418.80,50.08 L418.95,50.10 L419.10,50.12 L419.25,50.14 L419.40,50.15" fill="none" stroke="#fbab45" stroke-width="1.0" stroke-linejoin="round"/>
<path d="M401.60,64.97 L401.75,64.96 L401.90,64.96 L402.05,64.95 L402.20,64.94 L402.35,64.94 L402.50,64.93 L402.65,64.92 L402.80,64.91 L402.95,64.90 L403.10,64.89 L403.25,64.88 L403.40,64.87 L403.55,64.86 L403.70,64.84 L403.85,64.83 L404.00,64.81 L404.15,64.80 L404.30,64.78 L404.45,64.76 L404.60,64.74 L404.75,64.71 L404.90,64.69 L405.05,64.66 L405.20,64.63 L405.35,64.60 L405.50,64.57 L405.65,64.53 L405.80,64.48 L405.95,64.43 L406.10,64.37 L406.25,64.30 L406.40,64.22 L406.55,64.13 L406.70,64.01 L406.85,63.88 L407.00,63.72 L407.15,63.53 L407.30,63.30 L407.45,63.03 L407.60,62.72 L407.75,62.36 L407.90,61.95 L408.05,61.48 L408.20,60.96 L408.35,60.38 L408.50,59.75 L408.65,59.08 L408.80,58.36 L408.95,57.61 L409.10,56.85 L409.25,56.08 L409.40,55.33 L409.55,54.60 L409.70,53.93 L409.85,53.32 L410.00,52.80 L410.15,52.37 L410.30,52.06 L410.45,51.86 L410.60,51.80 L410.75,51.86 L410.90,52.06 L411.05,52.37 L411.20,52.80 L411.35,53.32 L411.50,53.93 L411.65,54.60 L411.80,55.33 L411.95,56.08 L412.10,56.85 L412.25,57.61 L412.40,58.36 L412.55,59.08 L412.70,59.75 L412.85,60.38 L413.00,60.96 L413.15,61.48 L413.30,61.95 L413.45,62.36 L413.60,62.72 L413.75,63.03 L413.90,63.30 L414.05,63.53 L414.20,63.72 L414.35,63.88 L414.50,64.01 L414.65,64.13 L414.80,64.22 L414.95,64.30 L415.10,64.37 L415.25,64.43 L415.40,64.48 L415.55,64.53 L415.70,64.57 L415.85,64.60 L416.00,64.63 L416.15,64.66 L416.30,64.69 L416.45,64.71 L416.60,64.74 L416.75,64.76 L416.90,64.78 L417.05,64.80 L417.20,64.81 L417.35,64.83 L417.50,64.84 L417.65,64.86 L417.80,64.87 L417.95,64.88 L418.10,64.89 L418.25,64.90 L418.40,64.91 L418.55,64.92 L418.70,64.93 L418.85,64.94 L419.00,64.94 L419.15,64.95 L419.30,64.96 L419.45,64.96 L419.60,64.97 Z" fill="#9f87b8" stroke="none"/>
<path d="M404.45,64.76 L404.60,64.74 L404.75,64.71 L404.90,64.69 L405.05,64.66 L405.20,64.63 L405.35,64.60 L405.50,64.57 L405.65,64.53 L405.80,64.48 L405.95,64.43 L406.10,64.37 L406.25,64.30 L406.40,64.22 L406.55,64.13 L406.70,64.01 L406.85,63.88 L407.00,63.72 L407.15,63.53 L407.30,63.30 L407.45,63.03 L407.60,62.72 L407.75,62.36 L407.90,61.95 L408.05,61.48 L408.20,60.96 L408.35,60.38 L408.50,59.75 L408.65,59.08 L408.80,58.36 L408.95,57.61 L409.10,56.85 L409.25,56.08 L409.40,55.33 L409.55,54.60 L409.70,53.93 L409.85,53.32 L410.00,52.80 L410.15,52.37 L410.30,52.06 L410.45,51.86 L410.60,51.80 L410.75,51.86 L410.90,52.06 L411.05,52.37 L411.20,52.80 L411.35,53.32 L411.50,53.93 L411.65,54.60 L411.80,55.33 L411.95,56.08 L412.10,56.85 L412.25,57.61 L412.40,58.36 L412.55,59.08 L412.70,59.75 L412.85,60.38 L413.00,60.96 L413.15,61.48 L413.30,61.95 L413.45,62.36 L413.60,62.72 L413.75,63.03 L413.90,63.30 L414.05,63.53 L414.20,63.72 L414.35,63.88 L414.50,64.01 L414.65,64.13 L414.80,64.22 L414.95,64.30 L415.10,64.37 L415.25,64.43 L415.40,64.48 L415.55,64.53 L415.70,64.57 L415.85,64.60 L416.00,64.63 L416.15,64.66 L416.30,64.69 L416.45,64.71 L416.60,64.74 L416.75,64.76" fill="none" stroke="#74528f" stroke-width="1.0" stroke-linejoin="round"/>
<path d="M401.50,79.77 L401.65,79.76 L401.80,79.76 L401.95,79.75 L402.10,79.74 L402.25,79.74 L402.40,79.73 L402.55,79.72 L402.70,79.71 L402.85,79.70 L403.00,79.69 L403.15,79.68 L403.30,79.67 L403.45,79.66 L403.60,79.64 L403.75,79.63 L403.90,79.61 L404.05,79.59 L404.20,79.58 L404.35,79.56 L404.50,79.53 L404.65,79.51 L404.80,79.49 L404.95,79.46 L405.10,79.43 L405.25,79.40 L405.40,79.36 L405.55,79.32 L405.70,79.28 L405.85,79.23 L406.00,79.17 L406.15,79.10 L406.30,79.02 L406.45,78.92 L406.60,78.81 L406.75,78.67 L406.90,78.51 L407.05,78.32 L407.20,78.09 L407.35,77.82 L407.50,77.50 L407.65,77.14 L407.80,76.73 L407.95,76.26 L408.10,75.73 L408.25,75.15 L408.40,74.52 L408.55,73.83 L408.70,73.11 L408.85,72.36 L409.00,71.59 L409.15,70.81 L409.30,70.05 L409.45,69.32 L409.60,68.64 L409.75,68.03 L409.90,67.50 L410.05,67.07 L410.20,66.76 L410.35,66.57 L410.50,66.50 L410.65,66.57 L410.80,66.76 L410.95,67.07 L411.10,67.50 L411.25,68.03 L411.40,68.64 L411.55,69.32 L411.70,70.05 L411.85,70.81 L412.00,71.59 L412.15,72.36 L412.30,73.11 L412.45,73.83 L412.60,74.52 L412.75,75.15 L412.90,75.73 L413.05,76.26 L413.20,76.73 L413.35,77.14 L413.50,77.50 L413.65,77.82 L413.80,78.09 L413.95,78.32 L414.10,78.51 L414.25,78.67 L414.40,78.81 L414.55,78.92 L414.70,79.02 L414.85,79.10 L415.00,79.17 L415.15,79.23 L415.30,79.28 L415.45,79.32 L415.60,79.36 L415.75,79.40 L415.90,79.43 L416.05,79.46 L416.20,79.49 L416.35,79.51 L416.50,79.53 L416.65,79.56 L416.80,79.58 L416.95,79.59 L417.10,79.61 L417.25,79.63 L417.40,79.64 L417.55,79.66 L417.70,79.67 L417.85,79.68 L418.00,79.69 L418.15,79.70 L418.30,79.71 L418.45,79.72 L418.60,79.73 L418.75,79.74 L418.90,79.74 L419.05,79.75 L419.20,79.76 L419.35,79.76 L419.50,79.77 Z" fill="#9adba3" stroke="none"/>
<path d="M404.35,79.56 L404.50,79.53 L404.65,79.51 L404.80,79.49 L404.95,79.46 L405.10,79.43 L405.25,79.40 L405.40,79.36 L405.55,79.32 L405.70,79.28 L405.85,79.23 L406.00,79.17 L406.15,79.10 L406.30,79.02 L406.45,78.92 L406.60,78.81 L406.75,78.67 L406.90,78.51 L407.05,78.32 L407.20,78.09 L407.35,77.82 L407.50,77.50 L407.65,77.14 L407.80,76.73 L407.95,76.26 L408.10,75.73 L408.25,75.15 L408.40,74.52 L408.55,73.83 L408.70,73.11 L408.85,72.36 L409.00,71.59 L409.15,70.81 L409.30,70.05 L409.45,69.32 L409.60,68.64 L409.75,68.03 L409.90,67.50 L410.05,67.07 L410.20,66.76 L410.35,66.57 L410.50,66.50 L410.65,66.57 L410.80,66.76 L410.95,67.07 L411.10,67.50 L411.25,68.03 L411.40,68.64 L411.55,69.32 L411.70,70.05 L411.85,70.81 L412.00,71.59 L412.15,72.36 L412.30,73.11 L412.45,73.83 L412.60,74.52 L412.75,75.15 L412.90,75.73 L413.05,76.26 L413.20,76.73 L413.35,77.14 L413.50,77.50 L413.65,77.82 L413.80,78.09 L413.95,78.32 L414.10,78.51 L414.25,78.67 L414.40,78.81 L414.55,78.92 L414.70,79.02 L414.85,79.10 L415.00,79.17 L415.15,79.23 L415.30,79.28 L415.45,79.32 L415.60,79.36 L415.75,79.40 L415.90,79.43 L416.05,79.46 L416.20,79.49 L416.35,79.51 L416.50,79.53 L416.65,79.56" fill="none" stroke="#6fcd7b" stroke-width="1.0" stroke-linejoin="round"/>
<path d="M401.40,94.47 L401.55,94.46 L401.70,94.46 L401.85,94.45 L402.00,94.44 L402.15,94.44 L402.30,94.43 L402.45,94.42 L402.60,94.41 L402.75,94.40 L402.90,94.39 L403.05,94.38 L403.20,94.37 L403.35,94.36 L403.50,94.34 L403.65,94.33 L403.80,94.31 L403.95,94.29 L404.10,94.28 L404.25,94.26 L404.40,94.23 L404.55,94.21 L404.70,94.19 L404.85,94.16 L405.00,94.13 L405.15,94.10 L405.30,94.06 L405.45,94.02 L405.60,93.98 L405.75,93.93 L405.90,93.87 L406.05,93.80 L406.20,93.72 L406.35,93.62 L406.50,93.51 L406.65,93.37 L406.80,93.21 L406.95,93.02 L407.10,92.79 L407.25,92.52 L407.40,92.20 L407.55,91.84 L407.70,91.43 L407.85,90.96 L408.00,90.43 L408.15,89.85 L408.30,89.22 L408.45,88.53 L408.60,87.81 L408.75,87.06 L408.90,86.29 L409.05,85.51 L409.20,84.75 L409.35,84.02 L409.50,83.34 L409.65,82.73 L409.80,82.20 L409.95,81.77 L410.10,81.46 L410.25,81.27 L410.40,81.20 L410.55,81.27 L410.70,81.46 L410.85,81.77 L411.00,82.20 L411.15,82.73 L411.30,83.34 L411.45,84.02 L411.60,84.75 L411.75,85.51 L411.90,86.29 L412.05,87.06 L412.20,87.81 L412.35,88.53 L412.50,89.22 L412.65,89.85 L412.80,90.43 L412.95,90.96 L413.10,91.43 L413.25,91.84 L413.40,92.20 L413.55,92.52 L413.70,92.79 L413.85,93.02 L414.00,93.21 L414.15,93.37 L414.30,93.51 L414.45,93.62 L414.60,93.72 L414.75,93.80 L414.90,93.87 L415.05,93.93 L415.20,93.98 L415.35,94.02 L415.50,94.06 L415.65,94.10 L415.80,94.13 L415.95,94.16 L416.10,94.19 L416.25,94.21 L416.40,94.23 L416.55,94.26 L416.70,94.28 L416.85,94.29 L417.00,94.31 L417.15,94.33 L417.30,94.34 L417.45,94.36 L417.60,94.37 L417.75,94.38 L417.90,94.39 L418.05,94.40 L418.20,94.41 L418.35,94.42 L418.50,94.43 L418.65,94.44 L418.80,94.44 L418.95,94.45 L419.10,94.46 L419.25,94.46 L419.40,94.47 Z" fill="#85a6c6" stroke="none"/>
<path d="M404.25,94.26 L404.40,94.23 L404.55,94.21 L404.70,94.19 L404.85,94.16 L405.00,94.13 L405.15,94.10 L405.30,94.06 L405.45,94.02 L405.60,93.98 L405.75,93.93 L405.90,93.87 L406.05,93.80 L406.20,93.72 L406.35,93.62 L406.50,93.51 L406.65,93.37 L406.80,93.21 L406.95,93.02 L407.10,92.79 L407.25,92.52 L407.40,92.20 L407.55,91.84 L407.70,91.43 L407.85,90.96 L408.00,90.43 L408.15,89.85 L408.30,89.22 L408.45,88.53 L408.60,87.81 L408.75,87.06 L408.90,86.29 L409.05,85.51 L409.20,84.75 L409.35,84.02 L409.50,83.34 L409.65,82.73 L409.80,82.20 L409.95,81.77 L410.10,81.46 L410.25,81.27 L410.40,81.20 L410.55,81.27 L410.70,81.46 L410.85,81.77 L411.00,82.20 L411.15,82.73 L411.30,83.34 L411.45,84.02 L411.60,84.75 L411.75,85.51 L411.90,86.29 L412.05,87.06 L412.20,87.81 L412.35,88.53 L412.50,89.22 L412.65,89.85 L412.80,90.43 L412.95,90.96 L413.10,91.43 L413.25,91.84 L413.40,92.20 L413.55,92.52 L413.70,92.79 L413.85,93.02 L414.00,93.21 L414.15,93.37 L414.30,93.51 L414.45,93.62 L414.60,93.72 L414.75,93.80 L414.90,93.87 L415.05,93.93 L415.20,93.98 L415.35,94.02 L415.50,94.06 L415.65,94.10 L415.80,94.13 L415.95,94.16 L416.10,94.19 L416.25,94.21 L416.40,94.23 L416.55,94.26" fill="none" stroke="#3f6f9f" stroke-width="1.0" stroke-linejoin="round"/>
<path d="M401.40,108.76 L401.55,108.75 L401.70,108.75 L401.85,108.74 L402.00,108.73 L402.15,108.73 L402.30,108.72 L402.45,108.71 L402.60,108.70 L402.75,108.69 L402.90,108.68 L403.05,108.67 L403.20,108.65 L403.35,108.64 L403.50,108.62 L403.65,108.61 L403.80,108.59 L403.95,108.57 L404.10,108.55 L404.25,108.53 L404.40,108.51 L404.55,108.49 L404.70,108.46 L404.85,108.43 L405.00,108.40 L405.15,108.37 L405.30,108.33 L405.45,108.29 L405.60,108.24 L405.75,108.18 L405.90,108.11 L406.05,108.04 L406.20,107.95 L406.35,107.84 L406.50,107.72 L406.65,107.57 L406.80,107.39 L406.95,107.18 L407.10,106.94 L407.25,106.65 L407.40,106.33 L407.55,105.95 L407.70,105.53 L407.85,105.05 L408.00,104.53 L408.15,103.95 L408.30,103.33 L408.45,102.67 L408.60,101.97 L408.75,101.25 L408.90,100.52 L409.05,99.79 L409.20,99.08 L409.35,98.40 L409.50,97.77 L409.65,97.21 L409.80,96.72 L409.95,96.33 L410.10,96.04 L410.25,95.86 L410.40,95.80 L410.55,95.86 L410.70,96.04 L410.85,96.33 L411.00,96.72 L411.15,97.21 L411.30,97.77 L411.45,98.40 L411.60,99.08 L411.75,99.79 L411.90,100.52 L412.05,101.25 L412.20,101.97 L412.35,102.67 L412.50,103.33 L412.65,103.95 L412.80,104.53 L412.95,105.05 L413.10,105.53 L413.25,105.95 L413.40,106.33 L413.55,106.65 L413.70,106.94 L413.85,107.18 L414.00,107.39 L414.15,107.57 L414.30,107.72 L414.45,107.84 L414.60,107.95 L414.75,108.04 L414.90,108.11 L415.05,108.18 L415.20,108.24 L415.35,108.29 L415.50,108.33 L415.65,108.37 L415.80,108.40 L415.95,108.43 L416.10,108.46 L416.25,108.49 L416.40,108.51 L416.55,108.53 L416.70,108.55 L416.85,108.57 L417.00,108.59 L417.15,108.61 L417.30,108.62 L417.45,108.64 L417.60,108.65 L417.75,108.67 L417.90,108.68 L418.05,108.69 L418.20,108.70 L418.35,108.71 L418.50,108.72 L418.65,108.73 L418.80,108.73 L418.95,108.74 L419.10,108.75 L419.25,108.75 L419.40,108.76 Z" fill="#e58498" stroke="none"/>
<path d="M404.10,108.55 L404.25,108.53 L404.40,108.51 L404.55,108.49 L404.70,108.46 L404.85,108.43 L405.00,108.40 L405.15,108.37 L405.30,108.33 L405.45,108.29 L405.60,108.24 L405.75,108.18 L405.90,108.11 L406.05,108.04 L406.20,107.95 L406.35,107.84 L406.50,107.72 L406.65,107.57 L406.80,107.39 L406.95,107.18 L407.10,106.94 L407.25,106.65 L407.40,106.33 L407.55,105.95 L407.70,105.53 L407.85,105.05 L408.00,104.53 L408.15,103.95 L408.30,103.33 L408.45,102.67 L408.60,101.97 L408.75,101.25 L408.90,100.52 L409.05,99.79 L409.20,99.08 L409.35,98.40 L409.50,97.77 L409.65,97.21 L409.80,96.72 L409.95,96.33 L410.10,96.04 L410.25,95.86 L410.40,95.80 L410.55,95.86 L410.70,96.04 L410.85,96.33 L411.00,96.72 L411.15,97.21 L411.30,97.77 L411.45,98.40 L411.60,99.08 L411.75,99.79 L411.90,100.52 L412.05,101.25 L412.20,101.97 L412.35,102.67 L412.50,103.33 L412.65,103.95 L412.80,104.53 L412.95,105.05 L413.10,105.53 L413.25,105.95 L413.40,106.33 L413.55,106.65 L413.70,106.94 L413.85,107.18 L414.00,107.39 L414.15,107.57 L414.30,107.72 L414.45,107.84 L414.60,107.95 L414.75,108.04 L414.90,108.11 L415.05,108.18 L415.20,108.24 L415.35,108.29 L415.50,108.33 L415.65,108.37 L415.80,108.40 L415.95,108.43 L416.10,108.46 L416.25,108.49 L416.40,108.51 L416.55,108.53 L416.70,108.55" fill="none" stroke="#d8405e" stroke-width="1.0" stroke-linejoin="round"/>
<rect x="317.90" y="35.80" width="73.10" height="73.40" fill="none" stroke="#231f20" stroke-width="1.5"/>
<rect x="394.00" y="35.80" width="72.90" height="73.40" fill="none" stroke="#231f20" stroke-width="1.5"/>
<line x1="308.50" y1="38.60" x2="308.50" y2="86.50" stroke="#231f20" stroke-width="1.0"/>
<path d="M306.00,41.00 L308.50,35.60 L311.00,41.00 Z" fill="#231f20"/>
<text x="311.00" y="100.40" font-size="8.8" text-anchor="middle" textLength="20.00" lengthAdjust="spacingAndGlyphs" transform="rotate(-90 311.00 100.40)">Count</text>
<text x="317.00" y="121.70" font-size="8.6" textLength="19.00" lengthAdjust="spacingAndGlyphs">TIM-3</text>
<line x1="338.30" y1="119.50" x2="464.20" y2="119.50" stroke="#3a3a3a" stroke-width="1.0"/>
<path d="M462.20,116.90 L467.20,119.50 L462.20,122.10 Z" fill="#231f20"/>
<circle cx="472.30" cy="54.50" r="1.85" fill="#fb8a12"/>
<text x="476.90" y="57.00" font-size="7.05">Monocytes</text>
<circle cx="472.30" cy="63.50" r="1.85" fill="#4e1d6f"/>
<text x="476.90" y="66.00" font-size="7.05">NK-cells</text>
<circle cx="472.30" cy="72.30" r="1.85" fill="#3bb54a"/>
<text x="476.90" y="74.80" font-size="7.05">CD8 T-cells</text>
<circle cx="472.30" cy="81.40" r="1.85" fill="#1b4f8c"/>
<text x="476.90" y="83.90" font-size="7.05">CD4 T-cells</text>
<circle cx="472.30" cy="90.30" r="1.85" fill="#c8102e"/>
<text x="476.90" y="92.80" font-size="7.05">B-cells</text>
<text x="128.80" y="293.60" font-size="11" font-weight="bold">F</text>
<rect x="142.90" y="299.50" width="68.70" height="12.30" fill="#ebc5cd"/>
<text x="177.25" y="308.60" font-size="8.5" text-anchor="middle" textLength="11.00" lengthAdjust="spacingAndGlyphs">HD</text>
<rect x="217.50" y="299.50" width="68.50" height="12.30" fill="#c5d6e3"/>
<text x="251.75" y="308.60" font-size="8.5" text-anchor="middle" textLength="23.00" lengthAdjust="spacingAndGlyphs">Patient</text>
<line x1="143.50" y1="332.80" x2="211.00" y2="332.80" stroke="#80b8a8" stroke-width="1.3"/>
<line x1="218.20" y1="332.80" x2="286.00" y2="332.80" stroke="#80b8a8" stroke-width="1.3"/>
<path d="M157.00,332.80 L157.20,332.76 L157.46,332.71 L157.77,332.64 L158.12,332.57 L158.49,332.50 L158.87,332.43 L159.24,332.36 L159.60,332.30 L159.95,332.25 L160.30,332.20 L160.67,332.16 L161.03,332.11 L161.40,332.07 L161.77,332.02 L162.14,331.96 L162.50,331.90 L162.86,331.83 L163.22,331.77 L163.59,331.70 L163.95,331.62 L164.31,331.54 L164.68,331.45 L165.04,331.33 L165.40,331.20 L165.77,331.03 L166.14,330.82 L166.51,330.59 L166.88,330.34 L167.25,330.11 L167.61,329.89 L167.96,329.72 L168.30,329.60 L168.62,329.55 L168.94,329.56 L169.24,329.60 L169.54,329.68 L169.83,329.75 L170.12,329.81 L170.41,329.83 L170.70,329.80 L170.99,329.72 L171.28,329.61 L171.56,329.47 L171.84,329.32 L172.13,329.15 L172.41,328.97 L172.70,328.78 L173.00,328.60 L173.30,328.43 L173.59,328.27 L173.89,328.11 L174.19,327.94 L174.50,327.74 L174.81,327.51 L175.15,327.24 L175.50,326.90 L175.88,326.49 L176.29,326.00 L176.71,325.46 L177.15,324.89 L177.59,324.30 L178.01,323.73 L178.42,323.19 L178.80,322.70 L179.15,322.24 L179.50,321.79 L179.82,321.35 L180.14,320.93 L180.44,320.53 L180.74,320.17 L181.02,319.86 L181.30,319.60 L181.57,319.41 L181.83,319.28 L182.09,319.21 L182.33,319.16 L182.57,319.14 L182.79,319.11 L183.00,319.07 L183.20,319.00 L183.38,318.88 L183.54,318.71 L183.69,318.52 L183.83,318.34 L183.97,318.18 L184.10,318.07 L184.25,318.04 L184.40,318.10 L184.56,318.28 L184.73,318.55 L184.90,318.90 L185.07,319.30 L185.24,319.72 L185.42,320.15 L185.61,320.55 L185.80,320.90 L185.99,321.18 L186.18,321.42 L186.36,321.62 L186.56,321.83 L186.76,322.07 L186.98,322.36 L187.23,322.72 L187.50,323.20 L187.81,323.82 L188.16,324.58 L188.54,325.42 L188.94,326.32 L189.33,327.22 L189.72,328.08 L190.08,328.85 L190.40,329.50 L190.67,330.03 L190.90,330.50 L191.11,330.91 L191.30,331.26 L191.50,331.57 L191.72,331.84 L191.98,332.08 L192.30,332.30 L192.70,332.48 L193.19,332.60 L193.72,332.68 L194.27,332.73 L194.80,332.75 L195.29,332.76 L195.70,332.78 L196.00,332.80 Z" fill="#7db4a4" stroke="none"/>
<path d="M158.12,332.57 L158.49,332.50 L158.87,332.43 L159.24,332.36 L159.60,332.30 L159.95,332.25 L160.30,332.20 L160.67,332.16 L161.03,332.11 L161.40,332.07 L161.77,332.02 L162.14,331.96 L162.50,331.90 L162.86,331.83 L163.22,331.77 L163.59,331.70 L163.95,331.62 L164.31,331.54 L164.68,331.45 L165.04,331.33 L165.40,331.20 L165.77,331.03 L166.14,330.82 L166.51,330.59 L166.88,330.34 L167.25,330.11 L167.61,329.89 L167.96,329.72 L168.30,329.60 L168.62,329.55 L168.94,329.56 L169.24,329.60 L169.54,329.68 L169.83,329.75 L170.12,329.81 L170.41,329.83 L170.70,329.80 L170.99,329.72 L171.28,329.61 L171.56,329.47 L171.84,329.32 L172.13,329.15 L172.41,328.97 L172.70,328.78 L173.00,328.60 L173.30,328.43 L173.59,328.27 L173.89,328.11 L174.19,327.94 L174.50,327.74 L174.81,327.51 L175.15,327.24 L175.50,326.90 L175.88,326.49 L176.29,326.00 L176.71,325.46 L177.15,324.89 L177.59,324.30 L178.01,323.73 L178.42,323.19 L178.80,322.70 L179.15,322.24 L179.50,321.79 L179.82,321.35 L180.14,320.93 L180.44,320.53 L180.74,320.17 L181.02,319.86 L181.30,319.60 L181.57,319.41 L181.83,319.28 L182.09,319.21 L182.33,319.16 L182.57,319.14 L182.79,319.11 L183.00,319.07 L183.20,319.00 L183.38,318.88 L183.54,318.71 L183.69,318.52 L183.83,318.34 L183.97,318.18 L184.10,318.07 L184.25,318.04 L184.40,318.10 L184.56,318.28 L184.73,318.55 L184.90,318.90 L185.07,319.30 L185.24,319.72 L185.42,320.15 L185.61,320.55 L185.80,320.90 L185.99,321.18 L186.18,321.42 L186.36,321.62 L186.56,321.83 L186.76,322.07 L186.98,322.36 L187.23,322.72 L187.50,323.20 L187.81,323.82 L188.16,324.58 L188.54,325.42 L188.94,326.32 L189.33,327.22 L189.72,328.08 L190.08,328.85 L190.40,329.50 L190.67,330.03 L190.90,330.50 L191.11,330.91 L191.30,331.26 L191.50,331.57 L191.72,331.84 L191.98,332.08 L192.30,332.30 L192.70,332.48 L193.19,332.60" fill="none" stroke="#3e8c77" stroke-width="1.0" stroke-linejoin="round"/>
<path d="M223.60,332.72 L223.77,332.71 L223.93,332.70 L224.10,332.69 L224.27,332.68 L224.43,332.67 L224.60,332.66 L224.77,332.64 L224.93,332.63 L225.10,332.62 L225.27,332.60 L225.43,332.58 L225.60,332.56 L225.77,332.55 L225.93,332.52 L226.10,332.50 L226.27,332.48 L226.43,332.46 L226.60,332.43 L226.77,332.40 L226.93,332.37 L227.10,332.34 L227.27,332.30 L227.43,332.26 L227.60,332.22 L227.77,332.17 L227.93,332.11 L228.10,332.04 L228.27,331.97 L228.43,331.88 L228.60,331.78 L228.77,331.66 L228.93,331.52 L229.10,331.36 L229.27,331.17 L229.43,330.95 L229.60,330.69 L229.77,330.39 L229.93,330.06 L230.10,329.67 L230.27,329.24 L230.43,328.75 L230.60,328.22 L230.77,327.63 L230.93,327.00 L231.10,326.32 L231.27,325.60 L231.43,324.85 L231.60,324.07 L231.77,323.28 L231.93,322.49 L232.10,321.71 L232.27,320.96 L232.43,320.25 L232.60,319.60 L232.77,319.02 L232.93,318.53 L233.10,318.13 L233.27,317.84 L233.43,317.66 L233.60,317.60 L233.77,317.66 L233.93,317.84 L234.10,318.13 L234.27,318.53 L234.43,319.02 L234.60,319.60 L234.77,320.25 L234.93,320.96 L235.10,321.71 L235.27,322.49 L235.43,323.28 L235.60,324.07 L235.77,324.85 L235.93,325.60 L236.10,326.32 L236.27,327.00 L236.43,327.63 L236.60,328.22 L236.77,328.75 L236.93,329.24 L237.10,329.67 L237.27,330.06 L237.43,330.39 L237.60,330.69 L237.77,330.95 L237.93,331.17 L238.10,331.36 L238.27,331.52 L238.43,331.66 L238.60,331.78 L238.77,331.88 L238.93,331.97 L239.10,332.04 L239.27,332.11 L239.43,332.17 L239.60,332.22 L239.77,332.26 L239.93,332.30 L240.10,332.34 L240.27,332.37 L240.43,332.40 L240.60,332.43 L240.77,332.46 L240.93,332.48 L241.10,332.50 L241.27,332.52 L241.43,332.55 L241.60,332.56 L241.77,332.58 L241.93,332.60 L242.10,332.62 L242.27,332.63 L242.43,332.64 L242.60,332.66 L242.77,332.67 L242.93,332.68 L243.10,332.69 L243.27,332.70 L243.43,332.71 L243.60,332.72 Z" fill="#7db4a4" stroke="none"/>
<path d="M225.60,332.56 L225.77,332.55 L225.93,332.52 L226.10,332.50 L226.27,332.48 L226.43,332.46 L226.60,332.43 L226.77,332.40 L226.93,332.37 L227.10,332.34 L227.27,332.30 L227.43,332.26 L227.60,332.22 L227.77,332.17 L227.93,332.11 L228.10,332.04 L228.27,331.97 L228.43,331.88 L228.60,331.78 L228.77,331.66 L228.93,331.52 L229.10,331.36 L229.27,331.17 L229.43,330.95 L229.60,330.69 L229.77,330.39 L229.93,330.06 L230.10,329.67 L230.27,329.24 L230.43,328.75 L230.60,328.22 L230.77,327.63 L230.93,327.00 L231.10,326.32 L231.27,325.60 L231.43,324.85 L231.60,324.07 L231.77,323.28 L231.93,322.49 L232.10,321.71 L232.27,320.96 L232.43,320.25 L232.60,319.60 L232.77,319.02 L232.93,318.53 L233.10,318.13 L233.27,317.84 L233.43,317.66 L233.60,317.60 L233.77,317.66 L233.93,317.84 L234.10,318.13 L234.27,318.53 L234.43,319.02 L234.60,319.60 L234.77,320.25 L234.93,320.96 L235.10,321.71 L235.27,322.49 L235.43,323.28 L235.60,324.07 L235.77,324.85 L235.93,325.60 L236.10,326.32 L236.27,327.00 L236.43,327.63 L236.60,328.22 L236.77,328.75 L236.93,329.24 L237.10,329.67 L237.27,330.06 L237.43,330.39 L237.60,330.69 L237.77,330.95 L237.93,331.17 L238.10,331.36 L238.27,331.52 L238.43,331.66 L238.60,331.78 L238.77,331.88 L238.93,331.97 L239.10,332.04 L239.27,332.11 L239.43,332.17 L239.60,332.22 L239.77,332.26 L239.93,332.30 L240.10,332.34 L240.27,332.37 L240.43,332.40 L240.60,332.43 L240.77,332.46 L240.93,332.48 L241.10,332.50 L241.27,332.52 L241.43,332.55 L241.60,332.56" fill="none" stroke="#3e8c77" stroke-width="1.0" stroke-linejoin="round"/>
<line x1="143.50" y1="349.70" x2="211.00" y2="349.70" stroke="#fdbc6a" stroke-width="1.3"/>
<line x1="218.20" y1="349.70" x2="286.00" y2="349.70" stroke="#fdbc6a" stroke-width="1.3"/>
<path d="M151.00,349.70 L151.22,349.70 L151.52,349.70 L151.88,349.70 L152.28,349.70 L152.69,349.70 L153.09,349.70 L153.47,349.60 L153.80,349.40 L154.09,349.13 L154.36,348.81 L154.61,348.43 L154.86,348.01 L155.09,347.53 L155.33,347.00 L155.56,346.43 L155.80,345.80 L156.05,345.07 L156.30,344.21 L156.55,343.27 L156.81,342.29 L157.05,341.33 L157.28,340.43 L157.50,339.64 L157.70,339.00 L157.87,338.50 L158.01,338.10 L158.14,337.78 L158.26,337.53 L158.37,337.35 L158.49,337.22 L158.63,337.14 L158.80,337.10 L158.99,337.12 L159.21,337.21 L159.44,337.37 L159.68,337.58 L159.92,337.82 L160.16,338.08 L160.39,338.35 L160.60,338.60 L160.79,338.84 L160.98,339.08 L161.15,339.33 L161.32,339.59 L161.49,339.88 L161.65,340.21 L161.82,340.58 L162.00,341.00 L162.18,341.50 L162.36,342.09 L162.54,342.73 L162.72,343.39 L162.90,344.06 L163.09,344.71 L163.29,345.29 L163.50,345.80 L163.71,346.23 L163.90,346.62 L164.10,346.97 L164.31,347.29 L164.53,347.57 L164.78,347.83 L165.07,348.07 L165.40,348.30 L165.79,348.50 L166.24,348.67 L166.73,348.82 L167.24,348.94 L167.76,349.04 L168.28,349.13 L168.76,349.22 L169.20,349.30 L169.59,349.37 L169.94,349.43 L170.27,349.47 L170.59,349.51 L170.91,349.53 L171.24,349.56 L171.60,349.58 L172.00,349.60 L172.47,349.62 L173.01,349.64 L173.59,349.66 L174.18,349.67 L174.74,349.68 L175.25,349.69 L175.68,349.69 L176.00,349.70 Z" fill="#fdc883" stroke="none"/>
<path d="M153.47,349.60 L153.80,349.40 L154.09,349.13 L154.36,348.81 L154.61,348.43 L154.86,348.01 L155.09,347.53 L155.33,347.00 L155.56,346.43 L155.80,345.80 L156.05,345.07 L156.30,344.21 L156.55,343.27 L156.81,342.29 L157.05,341.33 L157.28,340.43 L157.50,339.64 L157.70,339.00 L157.87,338.50 L158.01,338.10 L158.14,337.78 L158.26,337.53 L158.37,337.35 L158.49,337.22 L158.63,337.14 L158.80,337.10 L158.99,337.12 L159.21,337.21 L159.44,337.37 L159.68,337.58 L159.92,337.82 L160.16,338.08 L160.39,338.35 L160.60,338.60 L160.79,338.84 L160.98,339.08 L161.15,339.33 L161.32,339.59 L161.49,339.88 L161.65,340.21 L161.82,340.58 L162.00,341.00 L162.18,341.50 L162.36,342.09 L162.54,342.73 L162.72,343.39 L162.90,344.06 L163.09,344.71 L163.29,345.29 L163.50,345.80 L163.71,346.23 L163.90,346.62 L164.10,346.97 L164.31,347.29 L164.53,347.57 L164.78,347.83 L165.07,348.07 L165.40,348.30 L165.79,348.50 L166.24,348.67 L166.73,348.82 L167.24,348.94 L167.76,349.04 L168.28,349.13 L168.76,349.22 L169.20,349.30 L169.59,349.37 L169.94,349.43 L170.27,349.47" fill="none" stroke="#fbab45" stroke-width="1.0" stroke-linejoin="round"/>
<path d="M223.10,349.66 L223.27,349.66 L223.43,349.65 L223.60,349.65 L223.77,349.64 L223.93,349.63 L224.10,349.62 L224.27,349.61 L224.43,349.61 L224.60,349.59 L224.77,349.58 L224.93,349.57 L225.10,349.56 L225.27,349.54 L225.43,349.53 L225.60,349.51 L225.77,349.49 L225.93,349.47 L226.10,349.45 L226.27,349.43 L226.43,349.40 L226.60,349.38 L226.77,349.35 L226.93,349.32 L227.10,349.29 L227.27,349.25 L227.43,349.21 L227.60,349.17 L227.77,349.12 L227.93,349.06 L228.10,348.99 L228.27,348.92 L228.43,348.83 L228.60,348.72 L228.77,348.59 L228.93,348.44 L229.10,348.26 L229.27,348.04 L229.43,347.78 L229.60,347.48 L229.77,347.13 L229.93,346.72 L230.10,346.25 L230.27,345.72 L230.43,345.12 L230.60,344.46 L230.77,343.73 L230.93,342.95 L231.10,342.13 L231.27,341.26 L231.43,340.38 L231.60,339.49 L231.77,338.61 L231.93,337.77 L232.10,336.98 L232.27,336.27 L232.43,335.66 L232.60,335.17 L232.77,334.80 L232.93,334.58 L233.10,334.50 L233.27,334.58 L233.43,334.80 L233.60,335.17 L233.77,335.66 L233.93,336.27 L234.10,336.98 L234.27,337.77 L234.43,338.61 L234.60,339.49 L234.77,340.38 L234.93,341.26 L235.10,342.13 L235.27,342.95 L235.43,343.73 L235.60,344.46 L235.77,345.12 L235.93,345.72 L236.10,346.25 L236.27,346.72 L236.43,347.13 L236.60,347.48 L236.77,347.78 L236.93,348.04 L237.10,348.26 L237.27,348.44 L237.43,348.59 L237.60,348.72 L237.77,348.83 L237.93,348.92 L238.10,348.99 L238.27,349.06 L238.43,349.12 L238.60,349.17 L238.77,349.21 L238.93,349.25 L239.10,349.29 L239.27,349.32 L239.43,349.35 L239.60,349.38 L239.77,349.40 L239.93,349.43 L240.10,349.45 L240.27,349.47 L240.43,349.49 L240.60,349.51 L240.77,349.53 L240.93,349.54 L241.10,349.56 L241.27,349.57 L241.43,349.58 L241.60,349.59 L241.77,349.61 L241.93,349.61 L242.10,349.62 L242.27,349.63 L242.43,349.64 L242.60,349.65 L242.77,349.65 L242.93,349.66 L243.10,349.66 Z" fill="#fdc883" stroke="none"/>
<path d="M226.10,349.45 L226.27,349.43 L226.43,349.40 L226.60,349.38 L226.77,349.35 L226.93,349.32 L227.10,349.29 L227.27,349.25 L227.43,349.21 L227.60,349.17 L227.77,349.12 L227.93,349.06 L228.10,348.99 L228.27,348.92 L228.43,348.83 L228.60,348.72 L228.77,348.59 L228.93,348.44 L229.10,348.26 L229.27,348.04 L229.43,347.78 L229.60,347.48 L229.77,347.13 L229.93,346.72 L230.10,346.25 L230.27,345.72 L230.43,345.12 L230.60,344.46 L230.77,343.73 L230.93,342.95 L231.10,342.13 L231.27,341.26 L231.43,340.38 L231.60,339.49 L231.77,338.61 L231.93,337.77 L232.10,336.98 L232.27,336.27 L232.43,335.66 L232.60,335.17 L232.77,334.80 L232.93,334.58 L233.10,334.50 L233.27,334.58 L233.43,334.80 L233.60,335.17 L233.77,335.66 L233.93,336.27 L234.10,336.98 L234.27,337.77 L234.43,338.61 L234.60,339.49 L234.77,340.38 L234.93,341.26 L235.10,342.13 L235.27,342.95 L235.43,343.73 L235.60,344.46 L235.77,345.12 L235.93,345.72 L236.10,346.25 L236.27,346.72 L236.43,347.13 L236.60,347.48 L236.77,347.78 L236.93,348.04 L237.10,348.26 L237.27,348.44 L237.43,348.59 L237.60,348.72 L237.77,348.83 L237.93,348.92 L238.10,348.99 L238.27,349.06 L238.43,349.12 L238.60,349.17 L238.77,349.21 L238.93,349.25 L239.10,349.29 L239.27,349.32 L239.43,349.35 L239.60,349.38 L239.77,349.40 L239.93,349.43 L240.10,349.45" fill="none" stroke="#fbab45" stroke-width="1.0" stroke-linejoin="round"/>
<line x1="143.50" y1="366.60" x2="211.00" y2="366.60" stroke="#b39bc3" stroke-width="1.3"/>
<line x1="218.20" y1="366.60" x2="286.00" y2="366.60" stroke="#b39bc3" stroke-width="1.3"/>
<path d="M152.00,366.60 L152.26,366.60 L152.62,366.60 L153.04,366.60 L153.51,366.60 L154.00,366.60 L154.48,366.60 L154.92,366.53 L155.30,366.40 L155.63,366.20 L155.93,365.95 L156.21,365.65 L156.48,365.32 L156.73,364.97 L156.98,364.63 L157.24,364.30 L157.50,364.00 L157.77,363.71 L158.05,363.42 L158.32,363.12 L158.59,362.84 L158.86,362.56 L159.12,362.31 L159.37,362.09 L159.60,361.90 L159.81,361.75 L160.00,361.63 L160.17,361.54 L160.33,361.48 L160.50,361.42 L160.68,361.38 L160.87,361.34 L161.10,361.30 L161.36,361.26 L161.66,361.21 L161.98,361.17 L162.31,361.14 L162.63,361.13 L162.95,361.13 L163.24,361.15 L163.50,361.20 L163.71,361.29 L163.88,361.41 L164.02,361.57 L164.16,361.74 L164.29,361.91 L164.45,362.07 L164.65,362.20 L164.90,362.30 L165.20,362.36 L165.53,362.40 L165.89,362.42 L166.28,362.43 L166.69,362.42 L167.11,362.41 L167.55,362.40 L168.00,362.40 L168.47,362.41 L168.97,362.44 L169.50,362.47 L170.03,362.50 L170.57,362.51 L171.10,362.48 L171.61,362.42 L172.10,362.30 L172.56,362.12 L173.00,361.90 L173.43,361.64 L173.85,361.35 L174.26,361.03 L174.67,360.70 L175.08,360.35 L175.50,360.00 L175.92,359.64 L176.34,359.25 L176.76,358.84 L177.18,358.42 L177.60,357.99 L178.01,357.56 L178.41,357.12 L178.80,356.70 L179.19,356.27 L179.58,355.82 L179.97,355.37 L180.34,354.91 L180.71,354.47 L181.06,354.05 L181.39,353.65 L181.70,353.30 L181.97,352.96 L182.22,352.62 L182.43,352.29 L182.64,351.99 L182.84,351.73 L183.04,351.54 L183.26,351.42 L183.50,351.40 L183.76,351.48 L184.03,351.66 L184.31,351.92 L184.59,352.24 L184.89,352.61 L185.19,353.00 L185.49,353.40 L185.80,353.80 L186.12,354.19 L186.44,354.60 L186.78,355.03 L187.12,355.49 L187.46,355.97 L187.81,356.48 L188.15,357.02 L188.50,357.60 L188.85,358.25 L189.20,358.98 L189.56,359.76 L189.92,360.56 L190.27,361.35 L190.62,362.11 L190.97,362.80 L191.30,363.40 L191.61,363.92 L191.89,364.39 L192.17,364.81 L192.43,365.19 L192.71,365.53 L193.02,365.83 L193.36,366.08 L193.75,366.30 L194.22,366.46 L194.79,366.56 L195.40,366.60 L196.03,366.60 L196.64,366.60 L197.19,366.60 L197.66,366.59 L198.00,366.60 Z" fill="#9f87b8" stroke="none"/>
<path d="M155.30,366.40 L155.63,366.20 L155.93,365.95 L156.21,365.65 L156.48,365.32 L156.73,364.97 L156.98,364.63 L157.24,364.30 L157.50,364.00 L157.77,363.71 L158.05,363.42 L158.32,363.12 L158.59,362.84 L158.86,362.56 L159.12,362.31 L159.37,362.09 L159.60,361.90 L159.81,361.75 L160.00,361.63 L160.17,361.54 L160.33,361.48 L160.50,361.42 L160.68,361.38 L160.87,361.34 L161.10,361.30 L161.36,361.26 L161.66,361.21 L161.98,361.17 L162.31,361.14 L162.63,361.13 L162.95,361.13 L163.24,361.15 L163.50,361.20 L163.71,361.29 L163.88,361.41 L164.02,361.57 L164.16,361.74 L164.29,361.91 L164.45,362.07 L164.65,362.20 L164.90,362.30 L165.20,362.36 L165.53,362.40 L165.89,362.42 L166.28,362.43 L166.69,362.42 L167.11,362.41 L167.55,362.40 L168.00,362.40 L168.47,362.41 L168.97,362.44 L169.50,362.47 L170.03,362.50 L170.57,362.51 L171.10,362.48 L171.61,362.42 L172.10,362.30 L172.56,362.12 L173.00,361.90 L173.43,361.64 L173.85,361.35 L174.26,361.03 L174.67,360.70 L175.08,360.35 L175.50,360.00 L175.92,359.64 L176.34,359.25 L176.76,358.84 L177.18,358.42 L177.60,357.99 L178.01,357.56 L178.41,357.12 L178.80,356.70 L179.19,356.27 L179.58,355.82 L179.97,355.37 L180.34,354.91 L180.71,354.47 L181.06,354.05 L181.39,353.65 L181.70,353.30 L181.97,352.96 L182.22,352.62 L182.43,352.29 L182.64,351.99 L182.84,351.73 L183.04,351.54 L183.26,351.42 L183.50,351.40 L183.76,351.48 L184.03,351.66 L184.31,351.92 L184.59,352.24 L184.89,352.61 L185.19,353.00 L185.49,353.40 L185.80,353.80 L186.12,354.19 L186.44,354.60 L186.78,355.03 L187.12,355.49 L187.46,355.97 L187.81,356.48 L188.15,357.02 L188.50,357.60 L188.85,358.25 L189.20,358.98 L189.56,359.76 L189.92,360.56 L190.27,361.35 L190.62,362.11 L190.97,362.80 L191.30,363.40 L191.61,363.92 L191.89,364.39 L192.17,364.81 L192.43,365.19 L192.71,365.53 L193.02,365.83 L193.36,366.08 L193.75,366.30 L194.22,366.46" fill="none" stroke="#74528f" stroke-width="1.0" stroke-linejoin="round"/>
<path d="M223.60,366.54 L223.77,366.53 L223.93,366.53 L224.10,366.52 L224.27,366.51 L224.43,366.50 L224.60,366.49 L224.77,366.48 L224.93,366.47 L225.10,366.45 L225.27,366.44 L225.43,366.42 L225.60,366.41 L225.77,366.39 L225.93,366.37 L226.10,366.35 L226.27,366.33 L226.43,366.31 L226.60,366.28 L226.77,366.26 L226.93,366.23 L227.10,366.20 L227.27,366.17 L227.43,366.13 L227.60,366.09 L227.77,366.05 L227.93,366.00 L228.10,365.95 L228.27,365.89 L228.43,365.81 L228.60,365.73 L228.77,365.63 L228.93,365.52 L229.10,365.38 L229.27,365.22 L229.43,365.03 L229.60,364.81 L229.77,364.54 L229.93,364.24 L230.10,363.89 L230.27,363.48 L230.43,363.02 L230.60,362.51 L230.77,361.93 L230.93,361.30 L231.10,360.61 L231.27,359.86 L231.43,359.08 L231.60,358.26 L231.77,357.41 L231.93,356.56 L232.10,355.71 L232.27,354.88 L232.43,354.09 L232.60,353.37 L232.77,352.71 L232.93,352.15 L233.10,351.70 L233.27,351.37 L233.43,351.17 L233.60,351.10 L233.77,351.17 L233.93,351.37 L234.10,351.70 L234.27,352.15 L234.43,352.71 L234.60,353.37 L234.77,354.09 L234.93,354.88 L235.10,355.71 L235.27,356.56 L235.43,357.41 L235.60,358.26 L235.77,359.08 L235.93,359.86 L236.10,360.61 L236.27,361.30 L236.43,361.93 L236.60,362.51 L236.77,363.02 L236.93,363.48 L237.10,363.89 L237.27,364.24 L237.43,364.54 L237.60,364.81 L237.77,365.03 L237.93,365.22 L238.10,365.38 L238.27,365.52 L238.43,365.63 L238.60,365.73 L238.77,365.81 L238.93,365.89 L239.10,365.95 L239.27,366.00 L239.43,366.05 L239.60,366.09 L239.77,366.13 L239.93,366.17 L240.10,366.20 L240.27,366.23 L240.43,366.26 L240.60,366.28 L240.77,366.31 L240.93,366.33 L241.10,366.35 L241.27,366.37 L241.43,366.39 L241.60,366.41 L241.77,366.42 L241.93,366.44 L242.10,366.45 L242.27,366.47 L242.43,366.48 L242.60,366.49 L242.77,366.50 L242.93,366.51 L243.10,366.52 L243.27,366.53 L243.43,366.53 L243.60,366.54 Z" fill="#9f87b8" stroke="none"/>
<path d="M226.10,366.35 L226.27,366.33 L226.43,366.31 L226.60,366.28 L226.77,366.26 L226.93,366.23 L227.10,366.20 L227.27,366.17 L227.43,366.13 L227.60,366.09 L227.77,366.05 L227.93,366.00 L228.10,365.95 L228.27,365.89 L228.43,365.81 L228.60,365.73 L228.77,365.63 L228.93,365.52 L229.10,365.38 L229.27,365.22 L229.43,365.03 L229.60,364.81 L229.77,364.54 L229.93,364.24 L230.10,363.89 L230.27,363.48 L230.43,363.02 L230.60,362.51 L230.77,361.93 L230.93,361.30 L231.10,360.61 L231.27,359.86 L231.43,359.08 L231.60,358.26 L231.77,357.41 L231.93,356.56 L232.10,355.71 L232.27,354.88 L232.43,354.09 L232.60,353.37 L232.77,352.71 L232.93,352.15 L233.10,351.70 L233.27,351.37 L233.43,351.17 L233.60,351.10 L233.77,351.17 L233.93,351.37 L234.10,351.70 L234.27,352.15 L234.43,352.71 L234.60,353.37 L234.77,354.09 L234.93,354.88 L235.10,355.71 L235.27,356.56 L235.43,357.41 L235.60,358.26 L235.77,359.08 L235.93,359.86 L236.10,360.61 L236.27,361.30 L236.43,361.93 L236.60,362.51 L236.77,363.02 L236.93,363.48 L237.10,363.89 L237.27,364.24 L237.43,364.54 L237.60,364.81 L237.77,365.03 L237.93,365.22 L238.10,365.38 L238.27,365.52 L238.43,365.63 L238.60,365.73 L238.77,365.81 L238.93,365.89 L239.10,365.95 L239.27,366.00 L239.43,366.05 L239.60,366.09 L239.77,366.13 L239.93,366.17 L240.10,366.20 L240.27,366.23 L240.43,366.26 L240.60,366.28 L240.77,366.31 L240.93,366.33 L241.10,366.35" fill="none" stroke="#74528f" stroke-width="1.0" stroke-linejoin="round"/>
<line x1="143.50" y1="383.50" x2="211.00" y2="383.50" stroke="#9ed9a4" stroke-width="1.3"/>
<line x1="218.20" y1="383.50" x2="286.00" y2="383.50" stroke="#9ed9a4" stroke-width="1.3"/>
<path d="M150.00,383.46 L150.15,383.45 L150.30,383.45 L150.45,383.44 L150.60,383.43 L150.75,383.42 L150.90,383.42 L151.05,383.41 L151.20,383.39 L151.35,383.38 L151.50,383.37 L151.65,383.36 L151.80,383.34 L151.95,383.32 L152.10,383.31 L152.25,383.29 L152.40,383.27 L152.55,383.25 L152.70,383.22 L152.85,383.20 L153.00,383.17 L153.15,383.14 L153.30,383.11 L153.45,383.07 L153.60,383.03 L153.75,382.99 L153.90,382.94 L154.05,382.89 L154.20,382.82 L154.35,382.75 L154.50,382.66 L154.65,382.55 L154.80,382.43 L154.95,382.28 L155.10,382.09 L155.25,381.88 L155.40,381.62 L155.55,381.31 L155.70,380.95 L155.85,380.54 L156.00,380.06 L156.15,379.51 L156.30,378.90 L156.45,378.22 L156.60,377.48 L156.75,376.68 L156.90,375.84 L157.05,374.97 L157.20,374.07 L157.35,373.19 L157.50,372.32 L157.65,371.50 L157.80,370.75 L157.95,370.09 L158.10,369.54 L158.25,369.12 L158.40,368.84 L158.55,368.71 L158.70,368.73 L158.85,368.92 L159.00,369.24 L159.15,369.71 L159.30,370.30 L159.45,370.99 L159.60,371.77 L159.75,372.61 L159.90,373.48 L160.05,374.37 L160.20,375.26 L160.35,376.12 L160.50,376.95 L160.65,377.73 L160.80,378.45 L160.95,379.11 L161.10,379.70 L161.25,380.22 L161.40,380.68 L161.55,381.08 L161.70,381.42 L161.85,381.71 L162.00,381.95 L162.15,382.16 L162.30,382.33 L162.45,382.47 L162.60,382.59 L162.75,382.69 L162.90,382.77 L163.05,382.85 L163.20,382.91 L163.35,382.96 L163.50,383.01 L163.65,383.05 L163.80,383.08 L163.95,383.12 L164.10,383.15 L164.25,383.18 L164.40,383.21 L164.55,383.23 L164.70,383.25 L164.85,383.27 L165.00,383.29 L165.15,383.31 L165.30,383.33 L165.45,383.35 L165.60,383.36 L165.75,383.37 L165.90,383.39 L166.05,383.40 L166.20,383.41 L166.35,383.42 L166.50,383.43 L166.65,383.43 L166.80,383.44 L166.95,383.45 L167.10,383.45 L167.25,383.46 L167.40,383.46 L167.55,383.47 L167.70,383.47 L167.85,383.48 L168.00,383.48 Z" fill="#9adba3" stroke="none"/>
<path d="M152.40,383.27 L152.55,383.25 L152.70,383.22 L152.85,383.20 L153.00,383.17 L153.15,383.14 L153.30,383.11 L153.45,383.07 L153.60,383.03 L153.75,382.99 L153.90,382.94 L154.05,382.89 L154.20,382.82 L154.35,382.75 L154.50,382.66 L154.65,382.55 L154.80,382.43 L154.95,382.28 L155.10,382.09 L155.25,381.88 L155.40,381.62 L155.55,381.31 L155.70,380.95 L155.85,380.54 L156.00,380.06 L156.15,379.51 L156.30,378.90 L156.45,378.22 L156.60,377.48 L156.75,376.68 L156.90,375.84 L157.05,374.97 L157.20,374.07 L157.35,373.19 L157.50,372.32 L157.65,371.50 L157.80,370.75 L157.95,370.09 L158.10,369.54 L158.25,369.12 L158.40,368.84 L158.55,368.71 L158.70,368.73 L158.85,368.92 L159.00,369.24 L159.15,369.71 L159.30,370.30 L159.45,370.99 L159.60,371.77 L159.75,372.61 L159.90,373.48 L160.05,374.37 L160.20,375.26 L160.35,376.12 L160.50,376.95 L160.65,377.73 L160.80,378.45 L160.95,379.11 L161.10,379.70 L161.25,380.22 L161.40,380.68 L161.55,381.08 L161.70,381.42 L161.85,381.71 L162.00,381.95 L162.15,382.16 L162.30,382.33 L162.45,382.47 L162.60,382.59 L162.75,382.69 L162.90,382.77 L163.05,382.85 L163.20,382.91 L163.35,382.96 L163.50,383.01 L163.65,383.05 L163.80,383.08 L163.95,383.12 L164.10,383.15 L164.25,383.18 L164.40,383.21 L164.55,383.23 L164.70,383.25" fill="none" stroke="#6fcd7b" stroke-width="1.0" stroke-linejoin="round"/>
<path d="M222.90,383.48 L223.07,383.47 L223.23,383.47 L223.40,383.46 L223.57,383.46 L223.73,383.45 L223.90,383.45 L224.07,383.44 L224.23,383.43 L224.40,383.43 L224.57,383.42 L224.73,383.41 L224.90,383.39 L225.07,383.38 L225.23,383.37 L225.40,383.35 L225.57,383.34 L225.73,383.32 L225.90,383.30 L226.07,383.28 L226.23,383.26 L226.40,383.23 L226.57,383.21 L226.73,383.18 L226.90,383.15 L227.07,383.12 L227.23,383.08 L227.40,383.05 L227.57,383.00 L227.73,382.95 L227.90,382.90 L228.07,382.84 L228.23,382.76 L228.40,382.68 L228.57,382.57 L228.73,382.45 L228.90,382.30 L229.07,382.12 L229.23,381.91 L229.40,381.64 L229.57,381.33 L229.73,380.96 L229.90,380.53 L230.07,380.03 L230.23,379.45 L230.40,378.80 L230.57,378.07 L230.73,377.27 L230.90,376.41 L231.07,375.49 L231.23,374.54 L231.40,373.57 L231.57,372.59 L231.73,371.65 L231.90,370.76 L232.07,369.95 L232.23,369.25 L232.40,368.68 L232.57,368.25 L232.73,367.99 L232.90,367.90 L233.07,367.99 L233.23,368.25 L233.40,368.68 L233.57,369.25 L233.73,369.95 L233.90,370.76 L234.07,371.65 L234.23,372.59 L234.40,373.57 L234.57,374.54 L234.73,375.49 L234.90,376.41 L235.07,377.27 L235.23,378.07 L235.40,378.80 L235.57,379.45 L235.73,380.03 L235.90,380.53 L236.07,380.96 L236.23,381.33 L236.40,381.64 L236.57,381.91 L236.73,382.12 L236.90,382.30 L237.07,382.45 L237.23,382.57 L237.40,382.68 L237.57,382.76 L237.73,382.84 L237.90,382.90 L238.07,382.95 L238.23,383.00 L238.40,383.05 L238.57,383.08 L238.73,383.12 L238.90,383.15 L239.07,383.18 L239.23,383.21 L239.40,383.23 L239.57,383.26 L239.73,383.28 L239.90,383.30 L240.07,383.32 L240.23,383.34 L240.40,383.35 L240.57,383.37 L240.73,383.38 L240.90,383.39 L241.07,383.41 L241.23,383.42 L241.40,383.43 L241.57,383.43 L241.73,383.44 L241.90,383.45 L242.07,383.45 L242.23,383.46 L242.40,383.46 L242.57,383.47 L242.73,383.47 L242.90,383.48 Z" fill="#9adba3" stroke="none"/>
<path d="M226.23,383.26 L226.40,383.23 L226.57,383.21 L226.73,383.18 L226.90,383.15 L227.07,383.12 L227.23,383.08 L227.40,383.05 L227.57,383.00 L227.73,382.95 L227.90,382.90 L228.07,382.84 L228.23,382.76 L228.40,382.68 L228.57,382.57 L228.73,382.45 L228.90,382.30 L229.07,382.12 L229.23,381.91 L229.40,381.64 L229.57,381.33 L229.73,380.96 L229.90,380.53 L230.07,380.03 L230.23,379.45 L230.40,378.80 L230.57,378.07 L230.73,377.27 L230.90,376.41 L231.07,375.49 L231.23,374.54 L231.40,373.57 L231.57,372.59 L231.73,371.65 L231.90,370.76 L232.07,369.95 L232.23,369.25 L232.40,368.68 L232.57,368.25 L232.73,367.99 L232.90,367.90 L233.07,367.99 L233.23,368.25 L233.40,368.68 L233.57,369.25 L233.73,369.95 L233.90,370.76 L234.07,371.65 L234.23,372.59 L234.40,373.57 L234.57,374.54 L234.73,375.49 L234.90,376.41 L235.07,377.27 L235.23,378.07 L235.40,378.80 L235.57,379.45 L235.73,380.03 L235.90,380.53 L236.07,380.96 L236.23,381.33 L236.40,381.64 L236.57,381.91 L236.73,382.12 L236.90,382.30 L237.07,382.45 L237.23,382.57 L237.40,382.68 L237.57,382.76 L237.73,382.84 L237.90,382.90 L238.07,382.95 L238.23,383.00 L238.40,383.05 L238.57,383.08 L238.73,383.12 L238.90,383.15 L239.07,383.18 L239.23,383.21 L239.40,383.23 L239.57,383.26" fill="none" stroke="#6fcd7b" stroke-width="1.0" stroke-linejoin="round"/>
<line x1="143.50" y1="400.50" x2="211.00" y2="400.50" stroke="#82a3c3" stroke-width="1.3"/>
<line x1="218.20" y1="400.50" x2="286.00" y2="400.50" stroke="#82a3c3" stroke-width="1.3"/>
<path d="M152.00,400.50 L152.31,400.49 L152.73,400.49 L153.24,400.49 L153.79,400.49 L154.36,400.47 L154.91,400.44 L155.40,400.38 L155.80,400.30 L156.11,400.19 L156.38,400.05 L156.60,399.89 L156.79,399.72 L156.96,399.53 L157.13,399.33 L157.31,399.12 L157.50,398.90 L157.70,398.67 L157.88,398.43 L158.05,398.17 L158.22,397.91 L158.41,397.63 L158.61,397.36 L158.84,397.08 L159.10,396.80 L159.40,396.51 L159.72,396.19 L160.07,395.86 L160.44,395.54 L160.82,395.22 L161.21,394.94 L161.60,394.69 L162.00,394.50 L162.41,394.36 L162.83,394.28 L163.27,394.23 L163.72,394.21 L164.16,394.20 L164.59,394.21 L165.01,394.21 L165.40,394.20 L165.76,394.19 L166.10,394.18 L166.43,394.18 L166.74,394.19 L167.05,394.19 L167.36,394.20 L167.68,394.20 L168.00,394.20 L168.33,394.20 L168.65,394.22 L168.98,394.24 L169.31,394.25 L169.64,394.25 L169.98,394.23 L170.33,394.18 L170.70,394.10 L171.08,393.98 L171.47,393.85 L171.87,393.69 L172.27,393.51 L172.69,393.30 L173.12,393.06 L173.55,392.80 L174.00,392.50 L174.47,392.16 L174.96,391.77 L175.46,391.35 L175.98,390.91 L176.48,390.45 L176.98,389.99 L177.46,389.53 L177.90,389.10 L178.31,388.67 L178.71,388.23 L179.08,387.78 L179.44,387.33 L179.79,386.90 L180.13,386.50 L180.47,386.13 L180.80,385.80 L181.12,385.50 L181.42,385.20 L181.71,384.91 L182.00,384.66 L182.29,384.46 L182.58,384.32 L182.88,384.26 L183.20,384.30 L183.54,384.43 L183.90,384.64 L184.27,384.92 L184.65,385.26 L185.03,385.67 L185.40,386.13 L185.76,386.64 L186.10,387.20 L186.42,387.84 L186.73,388.57 L187.02,389.38 L187.31,390.23 L187.59,391.10 L187.88,391.95 L188.18,392.76 L188.50,393.50 L188.83,394.19 L189.17,394.87 L189.52,395.53 L189.87,396.17 L190.23,396.77 L190.58,397.33 L190.94,397.84 L191.30,398.30 L191.65,398.70 L192.00,399.04 L192.34,399.33 L192.69,399.59 L193.04,399.80 L193.41,399.99 L193.79,400.16 L194.20,400.30 L194.66,400.41 L195.18,400.48 L195.73,400.50 L196.28,400.50 L196.81,400.50 L197.30,400.50 L197.70,400.50 L198.00,400.50 Z" fill="#85a6c6" stroke="none"/>
<path d="M155.80,400.30 L156.11,400.19 L156.38,400.05 L156.60,399.89 L156.79,399.72 L156.96,399.53 L157.13,399.33 L157.31,399.12 L157.50,398.90 L157.70,398.67 L157.88,398.43 L158.05,398.17 L158.22,397.91 L158.41,397.63 L158.61,397.36 L158.84,397.08 L159.10,396.80 L159.40,396.51 L159.72,396.19 L160.07,395.86 L160.44,395.54 L160.82,395.22 L161.21,394.94 L161.60,394.69 L162.00,394.50 L162.41,394.36 L162.83,394.28 L163.27,394.23 L163.72,394.21 L164.16,394.20 L164.59,394.21 L165.01,394.21 L165.40,394.20 L165.76,394.19 L166.10,394.18 L166.43,394.18 L166.74,394.19 L167.05,394.19 L167.36,394.20 L167.68,394.20 L168.00,394.20 L168.33,394.20 L168.65,394.22 L168.98,394.24 L169.31,394.25 L169.64,394.25 L169.98,394.23 L170.33,394.18 L170.70,394.10 L171.08,393.98 L171.47,393.85 L171.87,393.69 L172.27,393.51 L172.69,393.30 L173.12,393.06 L173.55,392.80 L174.00,392.50 L174.47,392.16 L174.96,391.77 L175.46,391.35 L175.98,390.91 L176.48,390.45 L176.98,389.99 L177.46,389.53 L177.90,389.10 L178.31,388.67 L178.71,388.23 L179.08,387.78 L179.44,387.33 L179.79,386.90 L180.13,386.50 L180.47,386.13 L180.80,385.80 L181.12,385.50 L181.42,385.20 L181.71,384.91 L182.00,384.66 L182.29,384.46 L182.58,384.32 L182.88,384.26 L183.20,384.30 L183.54,384.43 L183.90,384.64 L184.27,384.92 L184.65,385.26 L185.03,385.67 L185.40,386.13 L185.76,386.64 L186.10,387.20 L186.42,387.84 L186.73,388.57 L187.02,389.38 L187.31,390.23 L187.59,391.10 L187.88,391.95 L188.18,392.76 L188.50,393.50 L188.83,394.19 L189.17,394.87 L189.52,395.53 L189.87,396.17 L190.23,396.77 L190.58,397.33 L190.94,397.84 L191.30,398.30 L191.65,398.70 L192.00,399.04 L192.34,399.33 L192.69,399.59 L193.04,399.80 L193.41,399.99 L193.79,400.16 L194.20,400.30" fill="none" stroke="#3f6f9f" stroke-width="1.0" stroke-linejoin="round"/>
<path d="M225.60,400.27 L225.77,400.25 L225.93,400.23 L226.10,400.22 L226.27,400.20 L226.43,400.18 L226.60,400.16 L226.77,400.14 L226.93,400.11 L227.10,400.09 L227.27,400.06 L227.43,400.04 L227.60,400.01 L227.77,399.98 L227.93,399.94 L228.10,399.91 L228.27,399.87 L228.43,399.82 L228.60,399.77 L228.77,399.72 L228.93,399.66 L229.10,399.59 L229.27,399.51 L229.43,399.42 L229.60,399.32 L229.77,399.21 L229.93,399.08 L230.10,398.93 L230.27,398.77 L230.43,398.58 L230.60,398.37 L230.77,398.13 L230.93,397.86 L231.10,397.56 L231.27,397.22 L231.43,396.85 L231.60,396.45 L231.77,396.01 L231.93,395.53 L232.10,395.01 L232.27,394.46 L232.43,393.87 L232.60,393.26 L232.77,392.61 L232.93,391.94 L233.10,391.25 L233.27,390.55 L233.43,389.85 L233.60,389.15 L233.77,388.46 L233.93,387.79 L234.10,387.15 L234.27,386.55 L234.43,385.99 L234.60,385.49 L234.77,385.05 L234.93,384.68 L235.10,384.39 L235.27,384.17 L235.43,384.04 L235.60,384.00 L235.77,384.04 L235.93,384.17 L236.10,384.39 L236.27,384.68 L236.43,385.05 L236.60,385.49 L236.77,385.99 L236.93,386.55 L237.10,387.15 L237.27,387.79 L237.43,388.46 L237.60,389.15 L237.77,389.85 L237.93,390.55 L238.10,391.25 L238.27,391.94 L238.43,392.61 L238.60,393.26 L238.77,393.87 L238.93,394.46 L239.10,395.01 L239.27,395.53 L239.43,396.01 L239.60,396.45 L239.77,396.85 L239.93,397.22 L240.10,397.56 L240.27,397.86 L240.43,398.13 L240.60,398.37 L240.77,398.58 L240.93,398.77 L241.10,398.93 L241.27,399.08 L241.43,399.21 L241.60,399.32 L241.77,399.42 L241.93,399.51 L242.10,399.59 L242.27,399.66 L242.43,399.72 L242.60,399.77 L242.77,399.82 L242.93,399.87 L243.10,399.91 L243.27,399.94 L243.43,399.98 L243.60,400.01 L243.77,400.04 L243.93,400.06 L244.10,400.09 L244.27,400.11 L244.43,400.14 L244.60,400.16 L244.77,400.18 L244.93,400.20 L245.10,400.22 L245.27,400.23 L245.43,400.25 L245.60,400.27 Z" fill="#85a6c6" stroke="none"/>
<path d="M225.60,400.27 L225.77,400.25 L225.93,400.23 L226.10,400.22 L226.27,400.20 L226.43,400.18 L226.60,400.16 L226.77,400.14 L226.93,400.11 L227.10,400.09 L227.27,400.06 L227.43,400.04 L227.60,400.01 L227.77,399.98 L227.93,399.94 L228.10,399.91 L228.27,399.87 L228.43,399.82 L228.60,399.77 L228.77,399.72 L228.93,399.66 L229.10,399.59 L229.27,399.51 L229.43,399.42 L229.60,399.32 L229.77,399.21 L229.93,399.08 L230.10,398.93 L230.27,398.77 L230.43,398.58 L230.60,398.37 L230.77,398.13 L230.93,397.86 L231.10,397.56 L231.27,397.22 L231.43,396.85 L231.60,396.45 L231.77,396.01 L231.93,395.53 L232.10,395.01 L232.27,394.46 L232.43,393.87 L232.60,393.26 L232.77,392.61 L232.93,391.94 L233.10,391.25 L233.27,390.55 L233.43,389.85 L233.60,389.15 L233.77,388.46 L233.93,387.79 L234.10,387.15 L234.27,386.55 L234.43,385.99 L234.60,385.49 L234.77,385.05 L234.93,384.68 L235.10,384.39 L235.27,384.17 L235.43,384.04 L235.60,384.00 L235.77,384.04 L235.93,384.17 L236.10,384.39 L236.27,384.68 L236.43,385.05 L236.60,385.49 L236.77,385.99 L236.93,386.55 L237.10,387.15 L237.27,387.79 L237.43,388.46 L237.60,389.15 L237.77,389.85 L237.93,390.55 L238.10,391.25 L238.27,391.94 L238.43,392.61 L238.60,393.26 L238.77,393.87 L238.93,394.46 L239.10,395.01 L239.27,395.53 L239.43,396.01 L239.60,396.45 L239.77,396.85 L239.93,397.22 L240.10,397.56 L240.27,397.86 L240.43,398.13 L240.60,398.37 L240.77,398.58 L240.93,398.77 L241.10,398.93 L241.27,399.08 L241.43,399.21 L241.60,399.32 L241.77,399.42 L241.93,399.51 L242.10,399.59 L242.27,399.66 L242.43,399.72 L242.60,399.77 L242.77,399.82 L242.93,399.87 L243.10,399.91 L243.27,399.94 L243.43,399.98 L243.60,400.01 L243.77,400.04 L243.93,400.06 L244.10,400.09 L244.27,400.11 L244.43,400.14 L244.60,400.16 L244.77,400.18 L244.93,400.20 L245.10,400.22 L245.27,400.23 L245.43,400.25 L245.60,400.27" fill="none" stroke="#3f6f9f" stroke-width="1.0" stroke-linejoin="round"/>
<path d="M151.00,417.18 L151.16,417.18 L151.32,417.17 L151.47,417.17 L151.63,417.17 L151.79,417.16 L151.95,417.16 L152.11,417.15 L152.27,417.14 L152.43,417.13 L152.58,417.13 L152.74,417.12 L152.90,417.11 L153.06,417.09 L153.22,417.08 L153.38,417.06 L153.53,417.05 L153.69,417.02 L153.85,417.00 L154.01,416.97 L154.17,416.94 L154.32,416.91 L154.48,416.86 L154.64,416.81 L154.80,416.75 L154.96,416.68 L155.12,416.59 L155.28,416.49 L155.43,416.37 L155.59,416.23 L155.75,416.07 L155.91,415.87 L156.07,415.64 L156.22,415.38 L156.38,415.07 L156.54,414.72 L156.70,414.33 L156.86,413.88 L157.02,413.39 L157.18,412.84 L157.33,412.24 L157.49,411.59 L157.65,410.89 L157.81,410.15 L157.97,409.38 L158.12,408.58 L158.28,407.77 L158.44,406.95 L158.60,406.15 L158.76,405.36 L158.92,404.62 L159.07,403.93 L159.23,403.30 L159.39,402.76 L159.55,402.31 L159.71,401.96 L159.87,401.73 L160.03,401.61 L160.18,401.62 L160.34,401.74 L160.50,401.98 L160.66,402.33 L160.82,402.79 L160.97,403.33 L161.13,403.96 L161.29,404.66 L161.45,405.40 L161.61,406.19 L161.77,407.00 L161.93,407.81 L162.08,408.63 L162.24,409.42 L162.40,410.19 L162.56,410.93 L162.72,411.62 L162.88,412.27 L163.03,412.87 L163.19,413.41 L163.35,413.91 L163.51,414.35 L163.67,414.74 L163.82,415.09 L163.98,415.39 L164.14,415.66 L164.30,415.88 L164.46,416.08 L164.62,416.24 L164.78,416.38 L164.93,416.50 L165.09,416.60 L165.25,416.68 L165.41,416.75 L165.57,416.81 L165.72,416.86 L165.88,416.91 L166.04,416.94 L166.20,416.98 L166.36,417.00 L166.52,417.03 L166.68,417.05 L166.83,417.06 L166.99,417.08 L167.15,417.09 L167.31,417.11 L167.47,417.12 L167.62,417.13 L167.78,417.14 L167.94,417.14 L168.10,417.15 L168.26,417.16 L168.42,417.16 L168.57,417.17 L168.73,417.17 L168.89,417.17 L169.05,417.18 L169.21,417.18 L169.37,417.18 L169.53,417.19 L169.68,417.19 L169.84,417.19 L170.00,417.19 Z" fill="#e58498" stroke="none"/>
<path d="M154.01,416.97 L154.17,416.94 L154.32,416.91 L154.48,416.86 L154.64,416.81 L154.80,416.75 L154.96,416.68 L155.12,416.59 L155.28,416.49 L155.43,416.37 L155.59,416.23 L155.75,416.07 L155.91,415.87 L156.07,415.64 L156.22,415.38 L156.38,415.07 L156.54,414.72 L156.70,414.33 L156.86,413.88 L157.02,413.39 L157.18,412.84 L157.33,412.24 L157.49,411.59 L157.65,410.89 L157.81,410.15 L157.97,409.38 L158.12,408.58 L158.28,407.77 L158.44,406.95 L158.60,406.15 L158.76,405.36 L158.92,404.62 L159.07,403.93 L159.23,403.30 L159.39,402.76 L159.55,402.31 L159.71,401.96 L159.87,401.73 L160.03,401.61 L160.18,401.62 L160.34,401.74 L160.50,401.98 L160.66,402.33 L160.82,402.79 L160.97,403.33 L161.13,403.96 L161.29,404.66 L161.45,405.40 L161.61,406.19 L161.77,407.00 L161.93,407.81 L162.08,408.63 L162.24,409.42 L162.40,410.19 L162.56,410.93 L162.72,411.62 L162.88,412.27 L163.03,412.87 L163.19,413.41 L163.35,413.91 L163.51,414.35 L163.67,414.74 L163.82,415.09 L163.98,415.39 L164.14,415.66 L164.30,415.88 L164.46,416.08 L164.62,416.24 L164.78,416.38 L164.93,416.50 L165.09,416.60 L165.25,416.68 L165.41,416.75 L165.57,416.81 L165.72,416.86 L165.88,416.91 L166.04,416.94 L166.20,416.98" fill="none" stroke="#d8405e" stroke-width="1.0" stroke-linejoin="round"/>
<path d="M224.60,417.14 L224.77,417.14 L224.93,417.13 L225.10,417.12 L225.27,417.11 L225.43,417.10 L225.60,417.09 L225.77,417.08 L225.93,417.07 L226.10,417.06 L226.27,417.04 L226.43,417.03 L226.60,417.01 L226.77,416.99 L226.93,416.98 L227.10,416.96 L227.27,416.94 L227.43,416.91 L227.60,416.89 L227.77,416.86 L227.93,416.84 L228.10,416.81 L228.27,416.77 L228.43,416.74 L228.60,416.70 L228.77,416.66 L228.93,416.61 L229.10,416.56 L229.27,416.50 L229.43,416.43 L229.60,416.34 L229.77,416.25 L229.93,416.13 L230.10,416.00 L230.27,415.84 L230.43,415.65 L230.60,415.43 L230.77,415.17 L230.93,414.87 L231.10,414.52 L231.27,414.12 L231.43,413.67 L231.60,413.16 L231.77,412.59 L231.93,411.96 L232.10,411.28 L232.27,410.55 L232.43,409.78 L232.60,408.96 L232.77,408.13 L232.93,407.29 L233.10,406.45 L233.27,405.63 L233.43,404.86 L233.60,404.14 L233.77,403.49 L233.93,402.94 L234.10,402.50 L234.27,402.17 L234.43,401.97 L234.60,401.90 L234.77,401.97 L234.93,402.17 L235.10,402.50 L235.27,402.94 L235.43,403.49 L235.60,404.14 L235.77,404.86 L235.93,405.63 L236.10,406.45 L236.27,407.29 L236.43,408.13 L236.60,408.96 L236.77,409.78 L236.93,410.55 L237.10,411.28 L237.27,411.96 L237.43,412.59 L237.60,413.16 L237.77,413.67 L237.93,414.12 L238.10,414.52 L238.27,414.87 L238.43,415.17 L238.60,415.43 L238.77,415.65 L238.93,415.84 L239.10,416.00 L239.27,416.13 L239.43,416.25 L239.60,416.34 L239.77,416.43 L239.93,416.50 L240.10,416.56 L240.27,416.61 L240.43,416.66 L240.60,416.70 L240.77,416.74 L240.93,416.77 L241.10,416.81 L241.27,416.84 L241.43,416.86 L241.60,416.89 L241.77,416.91 L241.93,416.94 L242.10,416.96 L242.27,416.98 L242.43,416.99 L242.60,417.01 L242.77,417.03 L242.93,417.04 L243.10,417.06 L243.27,417.07 L243.43,417.08 L243.60,417.09 L243.77,417.10 L243.93,417.11 L244.10,417.12 L244.27,417.13 L244.43,417.14 L244.60,417.14 Z" fill="#e58498" stroke="none"/>
<path d="M227.10,416.96 L227.27,416.94 L227.43,416.91 L227.60,416.89 L227.77,416.86 L227.93,416.84 L228.10,416.81 L228.27,416.77 L228.43,416.74 L228.60,416.70 L228.77,416.66 L228.93,416.61 L229.10,416.56 L229.27,416.50 L229.43,416.43 L229.60,416.34 L229.77,416.25 L229.93,416.13 L230.10,416.00 L230.27,415.84 L230.43,415.65 L230.60,415.43 L230.77,415.17 L230.93,414.87 L231.10,414.52 L231.27,414.12 L231.43,413.67 L231.60,413.16 L231.77,412.59 L231.93,411.96 L232.10,411.28 L232.27,410.55 L232.43,409.78 L232.60,408.96 L232.77,408.13 L232.93,407.29 L233.10,406.45 L233.27,405.63 L233.43,404.86 L233.60,404.14 L233.77,403.49 L233.93,402.94 L234.10,402.50 L234.27,402.17 L234.43,401.97 L234.60,401.90 L234.77,401.97 L234.93,402.17 L235.10,402.50 L235.27,402.94 L235.43,403.49 L235.60,404.14 L235.77,404.86 L235.93,405.63 L236.10,406.45 L236.27,407.29 L236.43,408.13 L236.60,408.96 L236.77,409.78 L236.93,410.55 L237.10,411.28 L237.27,411.96 L237.43,412.59 L237.60,413.16 L237.77,413.67 L237.93,414.12 L238.10,414.52 L238.27,414.87 L238.43,415.17 L238.60,415.43 L238.77,415.65 L238.93,415.84 L239.10,416.00 L239.27,416.13 L239.43,416.25 L239.60,416.34 L239.77,416.43 L239.93,416.50 L240.10,416.56 L240.27,416.61 L240.43,416.66 L240.60,416.70 L240.77,416.74 L240.93,416.77 L241.10,416.81 L241.27,416.84 L241.43,416.86 L241.60,416.89 L241.77,416.91 L241.93,416.94 L242.10,416.96" fill="none" stroke="#d8405e" stroke-width="1.0" stroke-linejoin="round"/>
<rect x="143.10" y="316.70" width="68.60" height="100.60" fill="none" stroke="#231f20" stroke-width="1.5"/>
<rect x="217.75" y="316.70" width="68.65" height="100.60" fill="none" stroke="#231f20" stroke-width="1.5"/>
<line x1="134.50" y1="319.70" x2="134.50" y2="396.40" stroke="#231f20" stroke-width="1.0"/>
<path d="M132.00,322.10 L134.50,316.70 L137.00,322.10 Z" fill="#231f20"/>
<text x="137.30" y="409.10" font-size="8.8" text-anchor="middle" textLength="19.60" lengthAdjust="spacingAndGlyphs" transform="rotate(-90 137.30 409.10)">Count</text>
<text x="136.90" y="429.20" font-size="8.5" textLength="19.00" lengthAdjust="spacingAndGlyphs">TIM-3</text>
<line x1="159.30" y1="426.70" x2="283.80" y2="426.70" stroke="#3a3a3a" stroke-width="1.0"/>
<path d="M281.80,424.10 L286.80,426.70 L281.80,429.30 Z" fill="#231f20"/>
<circle cx="297.00" cy="345.60" r="1.8" fill="#0c5c4b"/>
<text x="301.40" y="348.00" font-size="7.0">NK-cells &#8211; IL-15</text>
<circle cx="297.00" cy="354.00" r="1.8" fill="#fb8a12"/>
<text x="301.40" y="356.40" font-size="7.0">NK-cells &#8211; unstimulated</text>
<circle cx="297.00" cy="362.60" r="1.8" fill="#4e1d6f"/>
<text x="301.40" y="365.00" font-size="7.0" textLength="89.50" lengthAdjust="spacingAndGlyphs">CD8 T-cells &#8211; <tspan font-family="Liberation Serif">&#945;</tspan>CD3/<tspan font-family="Liberation Serif">&#945;</tspan>CD28</text>
<circle cx="297.00" cy="371.20" r="1.8" fill="#3bb54a"/>
<text x="301.40" y="373.60" font-size="7.0">CD8 T-cells &#8211; unstimulated</text>
<circle cx="297.00" cy="379.90" r="1.8" fill="#1b4f8c"/>
<text x="301.40" y="382.30" font-size="7.0" textLength="89.50" lengthAdjust="spacingAndGlyphs">CD4 T-cells &#8211; <tspan font-family="Liberation Serif">&#945;</tspan>CD3/<tspan font-family="Liberation Serif">&#945;</tspan>CD28</text>
<circle cx="297.00" cy="388.50" r="1.8" fill="#c8102e"/>
<text x="301.40" y="390.90" font-size="7.0">CD4 T-cells &#8211; unstimulated</text>
<rect x="0.5" y="0.5" width="519" height="435" fill="none" stroke="#000" stroke-width="1.1"/>
</svg>
</body></html>
